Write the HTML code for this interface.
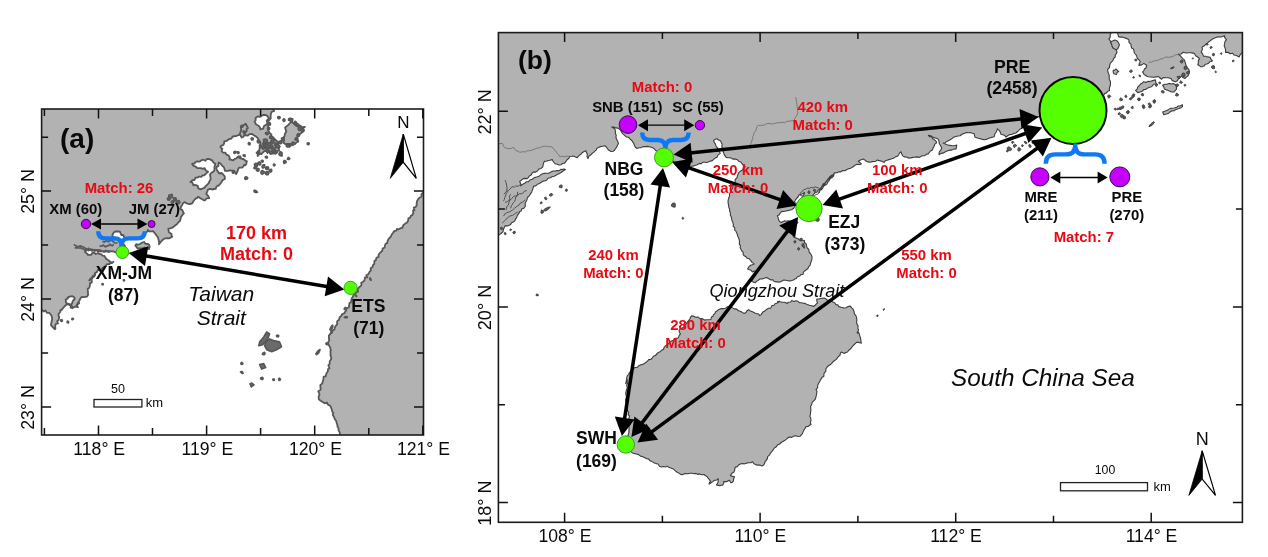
<!DOCTYPE html>
<html lang="en"><head><meta charset="utf-8"><title>Figure</title>
<style>
html,body{margin:0;padding:0;background:#fff;}
body{width:1268px;height:557px;overflow:hidden;}
svg{display:block;position:absolute;left:0;top:0;}
text{font-family:"Liberation Sans",Arial,Helvetica,sans-serif;fill:#0a0a0a;}
.t{font-weight:400;}
.b{font-weight:700;}
.r{font-weight:700;fill:#E60A14;}
.i{font-style:italic;}
.land{fill:#B2B2B2;stroke:#505050;stroke-width:1;stroke-linejoin:round;}
.la .land,.la .sea{stroke-width:1.8;stroke:#575757;}
.la .isl{stroke-width:1.6;stroke:#575757;fill:#6a6a6a;}
.sea{fill:#fff;stroke:#555;stroke-width:1;stroke-linejoin:round;}
.isl{fill:#777;stroke:#555;stroke-width:1;stroke-linejoin:round;}
.lb .isl{fill:#5a5a5a;stroke:#3c3c3c;stroke-width:0.9;}
.lb .land,.lb .sea{stroke:#3c3c3c;stroke-width:1.1;}
.bline{fill:none;stroke:#6a6a6a;stroke-width:0.8;}
.cline{fill:none;stroke:#505050;stroke-width:1;}
.la .cline{stroke:#5a5a5a;stroke-width:1.7;}
.frame{fill:none;stroke:#1c1c1c;stroke-width:1.6;}
.tick{fill:none;stroke:#111;stroke-width:1.5;}
.gc{fill:#55FF00;stroke:#2f9a1f;stroke-width:0.9;}
.pc{fill:#C500FF;stroke:#3a0a4a;stroke-width:1;}
</style></head><body>
<svg width="1268" height="557" viewBox="0 0 1268 557">
<rect width="1268" height="557" fill="#fff"/>
<defs>
<clipPath id="ca"><rect x="41.6" y="109.0" width="381.9" height="326.0"/></clipPath>
<clipPath id="cb"><rect x="498.4" y="32.6" width="744.0000000000001" height="489.69999999999993"/></clipPath>
</defs>

<g id="panelA">
<g clip-path="url(#ca)" class="la">
<path class="land" d="M41.0 100.0 L43.0 100.0 L45.0 100.0 L47.0 100.0 L49.0 100.1 L51.0 100.1 L53.0 100.1 L55.1 100.1 L57.1 100.1 L59.1 100.1 L61.1 100.2 L63.1 100.2 L65.1 100.2 L67.1 100.2 L69.1 100.2 L71.1 100.2 L73.1 100.3 L75.1 100.3 L77.1 100.3 L79.2 100.3 L81.2 100.3 L83.2 100.3 L85.2 100.3 L87.2 100.4 L89.2 100.4 L91.2 100.4 L93.2 100.4 L95.2 100.4 L97.2 100.4 L99.2 100.5 L101.2 100.5 L103.3 100.5 L105.3 100.5 L107.3 100.5 L109.3 100.5 L111.3 100.6 L113.3 100.6 L115.3 100.6 L117.3 100.6 L119.3 100.6 L121.3 100.6 L123.3 100.7 L125.3 100.7 L127.4 100.7 L129.4 100.7 L131.4 100.7 L133.4 100.7 L135.4 100.7 L137.4 100.8 L139.4 100.8 L141.4 100.8 L143.4 100.8 L145.4 100.8 L147.4 100.8 L149.4 100.9 L151.5 100.9 L153.5 100.9 L155.5 100.9 L157.5 100.9 L159.5 100.9 L161.5 101.0 L163.5 101.0 L165.5 101.0 L167.5 101.0 L169.5 101.0 L171.5 101.0 L173.5 101.0 L175.5 101.1 L177.6 101.1 L179.6 101.1 L181.6 101.1 L183.6 101.1 L185.6 101.1 L187.6 101.2 L189.6 101.2 L191.6 101.2 L193.6 101.2 L195.6 101.2 L197.6 101.2 L199.6 101.3 L201.7 101.3 L203.7 101.3 L205.7 101.3 L207.7 101.3 L209.7 101.3 L211.7 101.3 L213.7 101.4 L215.7 101.4 L217.7 101.4 L219.7 101.4 L221.7 101.4 L223.7 101.4 L225.8 101.5 L227.8 101.5 L229.8 101.5 L231.8 101.5 L233.8 101.5 L235.8 101.5 L237.8 101.6 L239.8 101.6 L241.8 101.6 L243.8 101.6 L245.8 101.6 L247.8 101.6 L249.9 101.7 L251.9 101.7 L253.9 101.7 L255.9 101.7 L257.9 101.7 L259.9 101.7 L261.9 101.7 L263.9 101.8 L265.9 101.8 L267.9 101.8 L269.9 101.8 L271.9 101.8 L274.1 101.5 L274.6 103.6 L273.7 105.6 L274.4 108.0 L273.0 108.9 L274.2 111.0 L271.7 111.8 L270.8 114.3 L270.6 116.5 L270.8 118.3 L269.1 120.2 L268.0 122.2 L269.3 124.0 L268.0 126.3 L268.3 128.4 L268.3 130.7 L268.7 131.6 L269.7 133.0 L271.5 134.6 L270.5 136.8 L273.2 137.2 L274.8 139.3 L276.4 140.7 L278.1 141.7 L278.1 142.4 L278.1 145.0 L279.8 146.4 L278.7 148.8 L279.1 150.3 L276.5 151.6 L275.8 152.7 L273.8 153.6 L271.2 153.6 L269.6 152.1 L267.6 151.6 L264.6 150.8 L262.8 152.5 L261.4 154.1 L259.8 153.7 L257.7 156.0 L257.6 153.6 L256.5 152.9 L258.2 151.7 L259.3 150.0 L259.8 147.2 L259.6 145.6 L260.6 142.7 L259.5 141.0 L258.6 140.2 L258.0 138.4 L255.8 136.4 L253.7 135.3 L252.0 133.9 L249.5 134.1 L247.6 135.7 L244.4 135.0 L242.1 136.6 L240.4 134.7 L238.3 135.2 L236.3 136.0 L235.2 136.1 L232.7 136.5 L231.4 138.5 L230.0 138.8 L228.7 139.3 L226.9 140.8 L224.3 141.4 L224.2 143.2 L223.4 144.9 L220.7 146.1 L220.5 147.4 L222.3 149.0 L221.6 150.9 L222.8 152.6 L225.4 152.7 L226.4 154.7 L228.8 155.7 L229.8 158.1 L229.3 159.5 L230.8 159.7 L233.2 160.4 L234.5 159.1 L236.0 158.5 L238.3 156.5 L240.0 158.0 L242.1 159.0 L243.4 159.0 L245.7 161.0 L246.9 161.1 L246.3 163.9 L245.4 165.4 L244.3 164.8 L242.7 167.3 L241.8 167.6 L239.0 167.7 L238.2 169.0 L237.4 171.7 L236.2 174.1 L234.5 171.5 L234.1 170.7 L231.3 170.5 L229.3 170.3 L227.9 170.8 L224.9 170.8 L224.3 168.1 L223.6 166.9 L222.2 165.8 L220.3 163.3 L218.5 162.5 L218.4 166.1 L216.7 166.9 L216.1 167.9 L216.8 169.7 L217.4 170.9 L219.3 173.5 L221.5 173.0 L223.2 174.5 L224.7 176.3 L224.9 178.7 L222.3 180.6 L221.2 182.5 L220.4 183.7 L218.8 185.4 L216.5 186.5 L215.7 188.9 L213.6 189.0 L212.9 189.7 L210.2 188.9 L207.9 189.7 L207.2 191.6 L206.2 193.9 L208.0 195.6 L209.2 198.2 L206.6 198.3 L205.1 200.3 L204.1 200.4 L202.3 199.2 L200.7 198.5 L198.2 196.6 L196.9 198.3 L195.8 198.3 L193.8 200.5 L193.1 202.0 L192.0 203.3 L189.9 204.1 L186.5 203.3 L184.7 202.1 L183.0 203.3 L182.3 204.7 L181.5 206.0 L180.0 208.9 L182.2 209.9 L182.7 211.2 L183.9 213.4 L182.4 214.9 L180.9 217.3 L180.4 219.6 L179.9 221.0 L178.2 222.4 L176.9 224.3 L176.1 224.8 L174.5 226.0 L172.3 227.7 L170.3 228.4 L168.3 228.6 L168.9 232.3 L171.6 233.9 L171.5 235.7 L172.3 236.8 L169.2 238.4 L167.3 238.2 L164.3 238.6 L162.8 239.8 L160.9 241.6 L159.0 244.2 L159.1 241.8 L158.3 239.0 L158.1 237.4 L156.5 235.5 L155.1 233.5 L153.1 231.1 L152.1 231.3 L149.2 231.3 L147.8 229.8 L147.8 231.3 L145.9 232.5 L145.0 234.0 L144.0 234.6 L143.2 237.4 L141.5 237.0 L140.6 239.0 L138.0 238.7 L136.3 238.0 L134.2 238.3 L131.4 239.5 L129.3 238.5 L127.0 238.2 L124.4 237.7 L123.2 234.8 L121.3 235.0 L119.9 231.7 L118.1 231.5 L115.6 231.4 L113.7 232.5 L112.5 234.9 L112.3 235.7 L113.9 237.7 L115.2 237.6 L117.6 238.1 L118.8 238.5 L121.0 240.6 L122.7 241.2 L122.9 243.0 L124.7 245.5 L125.2 248.0 L122.2 248.5 L121.6 250.1 L119.0 251.7 L118.0 252.1 L115.7 252.3 L113.5 251.4 L112.4 251.3 L110.7 251.2 L108.4 252.0 L105.8 250.4 L104.3 251.8 L102.3 251.3 L100.3 251.1 L98.0 251.5 L96.1 250.0 L94.1 249.8 L91.8 250.8 L90.9 249.1 L88.4 250.5 L86.7 249.2 L84.9 251.6 L85.9 252.7 L87.9 254.5 L87.8 254.9 L91.2 254.8 L92.5 252.8 L94.5 252.9 L95.6 254.0 L98.2 253.2 L99.8 254.1 L101.1 254.1 L102.5 255.6 L104.3 255.8 L105.4 257.5 L106.1 258.8 L108.3 260.2 L110.3 261.7 L112.2 262.7 L113.4 261.8 L111.9 263.2 L110.5 262.9 L109.4 264.0 L106.5 264.4 L106.3 265.4 L104.7 266.5 L102.4 268.1 L101.7 269.4 L99.7 270.4 L97.9 269.8 L97.1 271.9 L94.8 273.2 L95.3 274.5 L93.9 275.9 L92.4 278.0 L91.1 278.6 L89.3 280.4 L90.8 278.4 L92.1 277.3 L94.1 276.7 L94.9 275.5 L93.0 275.6 L92.2 278.3 L91.7 279.1 L91.8 282.4 L89.9 283.4 L89.9 285.8 L89.0 288.2 L87.8 288.5 L87.8 290.2 L88.0 293.2 L88.1 294.9 L87.0 296.6 L84.6 297.1 L81.6 297.0 L80.1 298.9 L79.7 300.2 L78.8 301.3 L78.9 303.2 L76.8 304.8 L77.9 307.1 L75.3 306.5 L72.6 308.0 L71.5 306.0 L70.1 305.3 L67.6 304.2 L66.2 304.9 L64.6 306.3 L63.0 308.1 L61.6 310.1 L60.4 310.2 L60.3 312.0 L58.7 313.7 L58.4 315.2 L59.2 317.1 L58.5 320.3 L57.1 321.2 L57.9 323.3 L55.7 324.0 L55.2 326.0 L55.4 328.7 L54.7 329.2 L53.0 327.4 L51.0 325.2 L51.2 323.3 L51.8 320.8 L52.1 319.6 L52.0 317.3 L51.4 315.3 L50.2 314.0 L49.3 312.9 L46.9 312.9 L45.5 310.4 L43.9 311.4 L41.7 309.8 L40.1 311.3 L37.8 310.3 L37.9 308.3 L37.9 306.3 L37.9 304.3 L38.0 302.3 L38.0 300.3 L38.0 298.3 L38.1 296.3 L38.1 294.3 L38.1 292.3 L38.1 290.3 L38.2 288.3 L38.2 286.3 L38.2 284.2 L38.3 282.2 L38.3 280.2 L38.3 278.2 L38.4 276.2 L38.4 274.2 L38.4 272.2 L38.4 270.2 L38.5 268.2 L38.5 266.2 L38.5 264.2 L38.6 262.2 L38.6 260.2 L38.6 258.2 L38.7 256.2 L38.7 254.2 L38.7 252.2 L38.7 250.2 L38.8 248.2 L38.8 246.2 L38.8 244.2 L38.9 242.2 L38.9 240.2 L38.9 238.2 L39.0 236.2 L39.0 234.2 L39.0 232.2 L39.0 230.2 L39.1 228.2 L39.1 226.2 L39.1 224.2 L39.2 222.2 L39.2 220.2 L39.2 218.2 L39.3 216.2 L39.3 214.2 L39.3 212.2 L39.3 210.1 L39.4 208.1 L39.4 206.1 L39.4 204.1 L39.5 202.1 L39.5 200.1 L39.5 198.1 L39.6 196.1 L39.6 194.1 L39.6 192.1 L39.6 190.1 L39.7 188.1 L39.7 186.1 L39.7 184.1 L39.8 182.1 L39.8 180.1 L39.8 178.1 L39.9 176.1 L39.9 174.1 L39.9 172.1 L39.9 170.1 L40.0 168.1 L40.0 166.1 L40.0 164.1 L40.1 162.1 L40.1 160.1 L40.1 158.1 L40.2 156.1 L40.2 154.1 L40.2 152.1 L40.2 150.1 L40.3 148.1 L40.3 146.1 L40.3 144.1 L40.4 142.1 L40.4 140.1 L40.4 138.1 L40.5 136.0 L40.5 134.0 L40.5 132.0 L40.5 130.0 L40.6 128.0 L40.6 126.0 L40.6 124.0 L40.7 122.0 L40.7 120.0 L40.7 118.0 L40.8 116.0 L40.8 114.0 L40.8 112.0 L40.8 110.0 L40.9 108.0 L40.9 106.0 L40.9 104.0 L41.0 102.0Z"/>
<path class="sea" d="M254.6 121.4 L255.6 120.6 L255.6 118.0 L258.0 116.3 L259.7 116.8 L261.5 116.1 L262.8 114.9 L265.7 115.0 L267.3 115.9 L268.8 118.0 L268.0 119.4 L266.7 120.6 L267.6 124.1 L266.1 124.7 L263.8 126.3 L263.2 128.7 L260.4 129.4 L259.8 127.2 L258.4 125.7 L255.8 124.3 L255.5 123.1Z"/>
<path class="sea" d="M192.1 163.7 L194.6 163.6 L195.3 162.2 L197.2 161.3 L199.4 161.7 L201.2 160.4 L203.3 159.7 L205.5 160.8 L206.8 158.9 L209.4 159.0 L211.3 160.3 L212.2 160.1 L213.2 162.3 L215.5 164.0 L214.7 165.9 L214.4 167.6 L214.5 169.9 L213.8 171.2 L211.3 172.9 L210.0 174.5 L210.4 176.9 L210.7 179.1 L209.8 180.6 L208.7 183.1 L207.3 184.8 L205.6 186.1 L204.3 187.9 L203.0 188.3 L200.6 189.4 L198.3 188.4 L197.7 185.8 L195.1 184.8 L193.4 185.3 L192.2 182.1 L190.3 182.1 L192.4 180.1 L194.5 180.0 L195.5 177.7 L197.3 177.6 L199.3 176.5 L201.2 177.0 L202.2 175.5 L204.2 175.4 L205.5 174.1 L206.7 172.9 L208.1 171.8 L207.1 171.2 L205.3 169.9 L204.7 168.1 L202.6 168.9 L201.0 168.1 L197.4 168.1 L196.7 167.5 L194.9 166.2 L193.3 165.9Z"/>
<path class="sea" d="M65.8 299.3 L68.0 298.5 L67.8 297.3 L69.6 296.6 L72.1 296.1 L74.3 297.3 L74.7 299.0 L72.9 300.8 L71.9 303.8 L70.8 304.7 L68.5 303.8 L66.3 303.2 L65.9 302.0Z"/>
<path class="land" d="M242.7 125.9 L244.5 124.8 L245.4 123.6 L246.7 125.6 L247.1 126.6 L248.0 127.9 L246.5 129.0 L246.8 130.9 L244.7 132.9 L244.6 133.8 L244.3 135.1 L243.2 137.0 L241.6 137.5 L240.7 135.7 L239.8 133.9 L240.2 132.7 L241.3 130.1 L241.0 128.2 L240.7 126.6Z"/>
<path class="land" d="M285.1 127.5 L286.7 126.3 L288.4 124.9 L289.7 123.3 L291.7 121.5 L293.3 123.1 L295.2 125.0 L298.2 126.4 L300.4 125.6 L301.9 127.1 L304.9 127.0 L303.0 128.1 L303.2 130.1 L301.9 132.5 L300.7 133.4 L298.4 134.8 L298.1 135.4 L296.6 138.2 L297.0 139.5 L298.4 141.4 L296.4 142.5 L294.9 144.2 L293.3 143.5 L291.6 144.5 L289.6 144.0 L287.5 144.0 L285.5 144.2 L283.8 143.0 L283.4 140.4 L283.0 137.9 L284.5 136.3 L284.9 133.9 L286.3 131.5 L285.6 129.4Z"/>
<path class="land" d="M136.2 244.2 L137.9 244.8 L140.4 243.7 L141.5 242.9 L144.1 242.0 L145.6 243.9 L147.8 243.8 L149.1 244.7 L149.7 246.9 L148.9 249.2 L147.8 247.5 L145.5 248.1 L144.2 247.7 L141.6 248.7 L140.6 248.2 L137.6 248.6 L136.4 246.8 L135.3 245.6Z"/>
<path class="cline" d="M73.9 244.4 L75.0 245.2 L77.0 246.5 L78.8 246.4 L80.3 245.9 L82.1 246.6 L84.9 248.0 L87.3 249.5 L88.6 248.4 L90.5 250.1 L92.7 249.5 L94.5 251.4 L95.9 250.1 L98.8 249.8 L100.5 250.3 L102.3 251.1 L104.6 251.4 L105.9 251.7 L108.3 250.9 L110.3 251.9"/>
<path class="cline" d="M74.7 247.9 L76.5 247.8 L79.2 248.0 L80.4 247.9 L82.6 248.8 L84.7 249.7 L86.9 251.0"/>
<path class="cline" d="M99.6 246.1 L101.7 246.1 L103.3 245.1 L105.3 246.8 L106.3 246.4 L109.1 245.3 L109.8 244.4 L112.2 245.7 L113.9 244.3"/>
<path class="cline" d="M102.3 241.3 L104.2 242.0 L106.5 240.7 L108.4 241.7 L109.9 240.6 L112.2 240.2 L113.3 241.8 L115.1 242.9 L117.5 243.0"/>
<path class="land" d="M440.5 192.0 L437.3 194.0 L436.4 193.7 L434.0 192.6 L432.1 192.1 L429.9 191.9 L427.1 192.7 L425.0 192.5 L423.5 192.2 L421.4 194.4 L421.5 196.5 L418.8 198.2 L417.7 199.9 L417.0 201.2 L416.7 203.1 L416.6 205.5 L415.8 206.9 L413.8 207.6 L414.5 210.2 L413.1 210.5 L413.3 213.1 L412.3 215.2 L410.8 215.8 L410.1 217.7 L408.4 218.3 L408.1 220.8 L407.1 222.5 L405.3 223.6 L403.5 225.0 L402.1 228.0 L400.8 228.1 L398.7 229.3 L396.9 229.0 L396.4 230.6 L394.1 231.2 L392.8 233.2 L391.5 234.8 L391.2 236.1 L389.3 238.2 L388.6 239.0 L387.8 240.4 L387.2 243.1 L385.6 243.8 L384.9 245.5 L384.7 247.5 L382.6 248.6 L382.3 250.8 L381.1 251.8 L379.3 253.6 L378.5 255.1 L378.7 257.0 L376.5 257.6 L375.9 260.1 L374.5 260.8 L374.2 264.0 L373.2 264.7 L372.6 266.9 L370.6 268.2 L370.9 270.3 L369.5 271.8 L368.4 274.1 L366.3 275.2 L367.3 277.3 L365.0 277.5 L364.5 280.4 L362.8 282.0 L361.2 282.9 L361.5 284.7 L360.8 286.1 L359.1 287.3 L357.7 289.1 L358.1 291.7 L356.3 292.0 L355.3 293.8 L353.5 295.0 L352.4 297.8 L351.6 298.3 L351.5 300.1 L350.7 302.7 L349.5 302.8 L349.2 305.6 L348.7 307.5 L346.7 308.0 L346.2 310.6 L345.3 311.3 L344.5 313.1 L342.1 314.3 L340.9 316.4 L339.7 317.0 L339.0 320.0 L337.5 320.7 L337.0 322.2 L337.3 324.1 L336.0 325.6 L334.5 327.9 L334.6 329.4 L332.4 330.3 L332.2 332.4 L330.5 333.4 L331.5 331.4 L330.2 329.3 L331.4 331.7 L329.9 334.5 L328.8 335.6 L328.9 338.2 L329.3 340.5 L328.1 342.2 L328.4 344.3 L329.1 345.6 L330.1 347.4 L330.9 350.2 L330.4 351.0 L330.6 353.1 L330.5 355.4 L331.3 357.5 L331.0 359.5 L329.7 361.2 L329.6 364.0 L328.4 365.1 L329.5 368.5 L328.0 369.1 L327.8 371.5 L326.5 373.2 L325.6 376.4 L323.7 376.7 L323.3 379.7 L322.9 380.8 L322.3 383.3 L320.3 385.1 L320.5 387.4 L320.6 389.8 L318.3 391.3 L319.0 393.0 L319.5 394.8 L318.6 396.6 L318.8 399.2 L321.1 401.1 L322.2 401.8 L324.7 403.3 L326.9 402.5 L328.3 405.1 L329.7 405.3 L330.6 406.6 L331.8 409.4 L332.2 411.4 L333.4 413.2 L332.7 414.7 L334.1 417.1 L334.7 419.0 L336.1 420.7 L336.7 423.0 L337.5 425.3 L337.4 426.5 L338.5 428.1 L338.5 430.1 L339.6 432.2 L340.0 433.9 L340.7 436.7 L341.9 437.9 L341.7 440.6 L343.7 440.7 L345.7 440.7 L347.7 440.8 L349.7 440.9 L351.7 441.0 L353.7 441.1 L355.7 441.2 L357.7 441.3 L359.7 441.4 L361.7 441.5 L363.8 441.6 L365.8 441.6 L367.8 441.7 L369.8 441.8 L371.8 441.9 L373.8 442.0 L375.8 442.1 L377.8 442.2 L379.8 442.3 L381.8 442.4 L383.8 442.5 L385.8 442.6 L387.8 442.6 L389.8 442.7 L391.8 442.8 L393.8 442.9 L395.9 443.0 L397.9 443.1 L399.9 443.2 L401.9 443.3 L403.9 443.4 L405.9 443.5 L407.9 443.6 L409.9 443.6 L411.9 443.7 L413.9 443.8 L415.9 443.9 L417.9 444.0 L419.9 444.1 L421.9 444.2 L423.9 444.3 L426.0 444.4 L428.0 444.5 L430.0 444.5 L432.0 444.6 L434.0 444.7 L436.0 444.8 L438.0 444.9 L440.0 445.0 L440.0 443.0 L440.0 441.0 L440.0 439.0 L440.0 437.0 L440.0 435.0 L440.0 433.0 L440.0 431.0 L440.0 429.0 L440.0 427.0 L440.0 425.0 L440.0 423.0 L440.0 421.0 L440.0 419.0 L440.0 417.0 L440.0 415.0 L440.0 413.0 L440.0 411.0 L440.0 409.0 L440.0 407.0 L440.0 405.0 L440.0 403.0 L440.0 401.0 L440.0 399.0 L440.0 397.0 L440.0 395.0 L440.0 393.0 L440.0 391.0 L440.0 389.0 L440.0 387.0 L440.0 385.0 L440.0 383.0 L440.0 381.0 L440.0 379.0 L440.0 377.0 L440.0 375.0 L440.0 373.0 L440.0 371.0 L440.0 369.0 L440.0 367.0 L440.0 365.0 L440.0 363.0 L440.0 361.0 L440.0 359.0 L440.0 357.0 L440.0 355.0 L440.0 353.0 L440.0 351.0 L440.0 349.0 L440.0 347.0 L440.0 345.0 L440.0 343.0 L440.0 341.0 L440.0 339.0 L440.0 337.0 L440.0 335.0 L440.0 333.0 L440.0 331.0 L440.0 329.0 L440.0 327.0 L440.0 325.0 L440.0 323.0 L440.0 321.0 L440.0 319.0 L440.0 317.0 L440.0 315.0 L440.0 313.0 L440.0 311.0 L440.0 309.0 L440.0 307.0 L440.0 305.0 L440.0 303.0 L440.0 301.0 L440.0 299.0 L440.0 297.0 L440.0 295.0 L440.0 293.0 L440.0 291.0 L440.0 289.0 L440.0 287.0 L440.0 285.0 L440.0 283.0 L440.0 281.0 L440.0 279.0 L440.0 277.0 L440.0 275.0 L440.0 273.0 L440.0 271.0 L440.0 269.0 L440.0 267.0 L440.0 265.0 L440.0 263.0 L440.0 261.0 L440.0 259.0 L440.0 257.0 L440.0 255.0 L440.0 253.0 L440.0 251.0 L440.0 249.0 L440.0 247.0 L440.0 245.0 L440.0 243.0 L440.0 241.0 L440.0 239.0 L440.0 237.0 L440.0 235.0 L440.0 233.0 L440.0 231.0 L440.0 229.0 L440.0 227.0 L440.0 225.0 L440.0 223.0 L440.0 221.0 L440.0 219.0 L440.0 217.0 L440.0 215.0 L440.0 213.0 L440.0 211.0 L440.0 209.0 L440.0 207.0 L440.0 205.0 L440.0 203.0 L440.0 201.0 L440.0 199.0 L440.0 197.0 L440.0 195.0Z"/>
<path class="isl" d="M265.7 341.8 L269.6 338.9 L274.6 340.9 L279.5 341.8 L281.5 346.8 L276.5 349.7 L271.6 351.7 L266.7 349.7 L264.7 345.8Z"/>
<path class="isl" d="M259.7 341.8 L263.7 336.9 L266.7 332.0 L269.6 333.9 L267.6 338.9 L262.7 344.8 L258.8 345.8Z"/>
<path class="isl" d="M259.7 364.6 L263.7 363.6 L265.7 367.5 L261.7 369.1Z"/>
<path class="isl" d="M282.1 154.0 L282.1 155.9 L280.2 155.7 L279.0 154.7 L279.2 153.3 L280.0 151.6 L281.9 152.4Z"/>
<path class="isl" d="M286.3 161.9 L285.4 162.9 L284.1 163.6 L283.6 162.3 L283.6 161.4 L284.2 160.4 L285.4 160.8Z"/>
<path class="isl" d="M289.8 158.7 L289.0 159.4 L288.3 159.5 L287.4 159.2 L287.7 158.3 L288.2 157.4 L289.1 157.9Z"/>
<path class="isl" d="M309.2 143.7 L308.9 144.6 L308.0 144.6 L307.2 144.2 L307.3 143.3 L308.0 142.9 L308.9 142.9Z"/>
<path class="isl" d="M247.4 178.0 L246.6 179.0 L245.5 179.5 L244.9 178.4 L245.0 177.6 L245.6 176.9 L246.6 177.0Z"/>
<path class="isl" d="M250.1 143.7 L249.9 144.8 L248.8 144.6 L248.3 144.0 L248.3 143.4 L248.7 142.6 L249.8 142.7Z"/>
<path class="isl" d="M267.4 157.1 L267.1 158.0 L266.2 157.9 L265.4 157.6 L265.4 156.7 L266.2 156.4 L267.0 156.3Z"/>
<path class="isl" d="M263.2 161.1 L263.0 161.9 L262.2 162.2 L261.3 161.6 L261.4 160.6 L262.2 160.2 L262.9 160.4Z"/>
<path class="isl" d="M275.2 165.0 L274.7 165.6 L274.1 165.9 L273.5 165.4 L273.4 164.6 L274.0 163.9 L274.7 164.5Z"/>
<path class="isl" d="M256.4 192.0 L256.0 192.5 L254.6 192.2 L254.2 191.4 L254.0 190.6 L255.3 190.7 L256.4 191.4Z"/>
<path class="isl" d="M266.5 142.9 L266.0 144.4 L264.5 144.2 L262.7 143.9 L263.4 142.3 L264.3 140.8 L266.0 141.4Z"/>
<path class="isl" d="M272.8 146.4 L272.2 147.7 L270.7 148.3 L269.6 147.1 L269.6 145.6 L270.7 144.7 L272.2 145.0Z"/>
<path class="isl" d="M269.8 151.1 L268.6 152.0 L267.5 153.1 L266.6 151.8 L266.8 150.6 L267.6 149.6 L268.9 150.0Z"/>
<path class="isl" d="M277.7 144.5 L277.1 145.7 L275.9 145.7 L274.6 145.2 L274.9 143.9 L275.8 142.7 L276.9 143.6Z"/>
<path class="isl" d="M275.6 151.1 L275.1 152.2 L273.9 152.7 L272.5 152.0 L272.8 150.4 L273.9 149.7 L275.4 149.7Z"/>
<path class="isl" d="M264.7 148.0 L264.2 148.8 L263.2 149.2 L262.2 148.6 L262.6 147.5 L263.1 146.3 L264.6 146.6Z"/>
<path class="isl" d="M280.2 117.6 L279.6 118.4 L278.7 118.8 L277.9 118.2 L277.7 117.0 L278.7 116.5 L279.7 116.7Z"/>
<path class="isl" d="M285.0 120.0 L284.8 120.9 L283.7 121.4 L283.0 120.5 L283.0 119.5 L283.8 118.8 L284.7 119.2Z"/>
<path class="isl" d="M291.4 119.5 L291.0 120.7 L289.8 120.7 L288.6 120.2 L288.6 118.9 L289.8 118.2 L291.0 118.4Z"/>
<path class="isl" d="M296.6 122.7 L295.8 123.5 L294.8 124.2 L294.1 123.2 L294.3 122.3 L294.8 121.3 L295.9 121.8Z"/>
<path class="isl" d="M302.1 128.7 L300.8 129.9 L299.4 130.6 L298.3 129.5 L298.2 127.9 L299.4 126.7 L300.7 127.7Z"/>
<path class="isl" d="M297.9 139.0 L297.5 139.9 L296.4 140.4 L295.1 139.7 L295.3 138.3 L296.4 137.7 L297.7 137.7Z"/>
<path class="isl" d="M272.3 137.4 L272.3 138.8 L270.8 138.6 L269.5 138.1 L269.7 136.7 L270.8 135.9 L272.0 136.3Z"/>
<path class="isl" d="M269.7 128.7 L269.3 129.4 L268.4 130.1 L267.7 129.2 L267.5 128.1 L268.5 127.6 L269.5 127.8Z"/>
<path class="isl" d="M284.1 139.0 L284.1 140.5 L282.7 140.3 L281.8 139.5 L281.4 138.2 L282.7 137.7 L284.2 137.4Z"/>
<path class="isl" d="M291.0 145.3 L290.6 146.0 L289.7 146.9 L289.2 145.7 L289.2 144.9 L289.7 143.8 L291.1 144.0Z"/>
<path class="isl" d="M259.7 152.4 L259.4 153.5 L258.3 153.3 L257.2 153.0 L257.5 151.9 L258.1 150.8 L259.3 151.3Z"/>
<path class="isl" d="M245.1 155.6 L245.0 156.5 L244.1 156.2 L243.4 156.0 L243.2 155.1 L244.1 154.9 L244.8 154.9Z"/>
<path class="isl" d="M239.1 152.4 L238.7 153.4 L237.7 153.4 L237.1 152.8 L236.9 151.9 L237.8 151.7 L238.5 151.7Z"/>
<path class="isl" d="M234.1 172.1 L233.9 173.1 L233.0 173.2 L232.3 172.6 L232.5 171.8 L232.9 171.0 L233.6 171.6Z"/>
<path class="isl" d="M247.8 178.1 L247.1 179.0 L246.2 179.0 L245.2 178.7 L245.2 177.6 L246.2 177.2 L247.0 177.3Z"/>
<path class="isl" d="M257.5 192.3 L256.5 192.4 L255.2 191.8 L254.5 191.0 L254.6 190.3 L255.9 190.8 L256.6 191.4Z"/>
<path class="isl" d="M68.6 322.1 L68.5 322.9 L67.7 322.8 L67.1 322.5 L67.1 321.8 L67.6 321.0 L68.4 321.4Z"/>
<path class="isl" d="M73.6 319.0 L73.0 319.5 L72.4 319.7 L71.8 319.4 L71.9 318.6 L72.4 318.3 L73.0 318.4Z"/>
<path class="isl" d="M62.4 320.6 L62.2 321.3 L61.3 321.4 L60.8 320.9 L60.6 320.1 L61.4 319.8 L62.1 319.9Z"/>
<path class="isl" d="M103.4 284.2 L103.1 284.8 L102.4 284.9 L102.1 284.5 L101.9 283.9 L102.4 283.5 L103.0 283.8Z"/>
<path class="isl" d="M124.5 280.3 L124.4 280.8 L123.8 280.9 L123.4 280.6 L123.4 280.0 L123.8 279.7 L124.3 279.8Z"/>
<path class="isl" d="M79.1 303.2 L78.6 303.8 L78.0 303.9 L77.5 303.5 L77.6 302.9 L78.0 302.6 L78.6 302.6Z"/>
<path class="isl" d="M72.6 307.1 L72.5 308.0 L71.6 308.0 L70.5 307.7 L70.6 306.5 L71.5 305.9 L72.3 306.5Z"/>
<path class="isl" d="M254.0 384.9 L252.6 385.9 L251.4 387.0 L250.7 385.4 L249.9 383.9 L251.4 383.1 L252.8 383.7Z"/>
<path class="isl" d="M263.2 378.4 L262.6 379.5 L261.5 379.4 L260.7 378.9 L260.6 377.9 L261.5 377.5 L262.5 377.4Z"/>
<path class="isl" d="M280.5 379.4 L280.1 380.1 L279.2 380.5 L278.7 379.8 L278.7 379.0 L279.2 378.1 L280.0 378.7Z"/>
<path class="isl" d="M274.4 379.8 L274.1 380.5 L273.4 380.4 L273.0 380.0 L272.7 379.4 L273.4 378.9 L274.1 379.1Z"/>
<path class="isl" d="M242.9 363.6 L242.6 364.3 L241.8 364.4 L240.9 364.1 L240.9 363.1 L241.7 362.4 L242.4 363.0Z"/>
<path class="isl" d="M243.1 373.2 L242.4 373.5 L241.4 372.8 L240.5 371.9 L241.3 371.6 L242.1 371.6 L242.8 372.5Z"/>
<path class="isl" d="M320.1 349.5 L319.5 351.3 L318.4 353.4 L316.5 354.7 L315.9 354.0 L317.1 352.0 L318.4 350.4Z"/>
<path class="isl" d="M328.0 343.8 L327.5 344.7 L326.7 344.6 L326.1 344.2 L325.9 343.4 L326.6 342.8 L327.3 343.3Z"/>
<path class="isl" d="M265.0 353.7 L264.5 354.7 L263.5 354.7 L262.4 354.3 L262.8 353.2 L263.5 352.7 L264.7 352.4Z"/>
<path class="isl" d="M278.8 335.9 L278.3 336.9 L277.3 336.8 L276.6 336.3 L276.5 335.5 L277.3 335.1 L278.1 335.2Z"/>
<path class="isl" d="M332.8 325.1 L332.9 326.3 L332.1 328.4 L331.0 329.3 L330.2 329.5 L330.6 327.6 L331.8 325.6Z"/>
<path class="isl" d="M345.6 307.7 L345.7 308.1 L345.3 308.9 L344.7 309.3 L344.2 309.4 L344.4 308.4 L345.2 307.4Z"/>
<path class="isl" d="M347.5 317.1 L346.9 317.7 L345.5 317.7 L344.3 317.4 L344.9 317.0 L345.5 316.5 L346.6 316.8Z"/>
<path class="isl" d="M370.7 280.2 L370.3 279.8 L369.9 279.2 L369.8 278.3 L370.1 277.8 L370.7 278.8 L371.2 280.0Z"/>
<path class="isl" d="M356.6 296.6 L356.2 296.5 L355.5 295.8 L355.6 295.3 L355.8 295.1 L356.3 295.5 L356.6 296.1Z"/>
<path class="isl" d="M257.5 165.0 L257.3 166.5 L255.8 166.1 L254.7 165.7 L254.4 164.2 L255.7 163.3 L257.4 163.5Z"/>
<path class="isl" d="M260.7 163.6 L260.5 164.8 L259.3 164.9 L258.4 164.2 L257.9 162.8 L259.2 161.9 L260.4 162.6Z"/>
<path class="isl" d="M264.7 166.3 L264.4 167.4 L263.1 168.1 L262.0 167.0 L262.4 165.8 L263.2 164.7 L264.7 164.8Z"/>
<path class="isl" d="M268.6 168.3 L268.0 169.2 L267.0 169.5 L265.7 169.1 L265.7 167.6 L266.9 166.7 L268.3 167.1Z"/>
<path class="isl" d="M271.8 170.7 L271.4 171.8 L270.2 172.1 L269.5 171.2 L269.1 170.1 L270.2 169.5 L271.5 169.4Z"/>
<path class="isl" d="M268.9 173.2 L268.1 174.6 L266.6 174.8 L265.5 173.9 L265.2 172.4 L266.6 171.6 L268.3 171.7Z"/>
<path class="isl" d="M264.6 172.3 L263.4 173.4 L262.1 174.3 L260.9 173.1 L261.1 171.6 L262.1 170.4 L263.5 171.2Z"/>
<path class="isl" d="M258.9 169.9 L258.7 171.0 L257.6 171.1 L256.4 170.6 L256.9 169.5 L257.5 168.7 L258.9 168.6Z"/>
<path class="isl" d="M256.6 167.6 L256.1 168.6 L255.0 168.7 L253.9 168.2 L254.4 167.1 L255.0 166.2 L256.0 166.7Z"/>
<path class="isl" d="M267.5 140.5 L267.1 142.4 L265.2 142.0 L263.9 141.3 L263.4 139.5 L265.2 138.9 L266.5 139.3Z"/>
<path class="isl" d="M274.1 141.0 L274.0 142.7 L272.1 143.4 L270.5 142.1 L271.4 140.4 L272.2 139.1 L274.0 139.4Z"/>
<path class="isl" d="M270.7 144.5 L270.3 145.8 L268.8 146.2 L267.6 145.3 L267.4 143.6 L268.8 142.7 L270.5 142.8Z"/>
<path class="isl" d="M266.1 145.3 L265.6 146.3 L264.5 146.6 L263.7 145.8 L263.0 144.4 L264.4 143.7 L265.9 143.9Z"/>
<path class="isl" d="M279.5 146.4 L278.7 148.0 L277.1 147.9 L275.5 147.3 L275.4 145.4 L277.1 145.1 L278.7 144.8Z"/>
<path class="isl" d="M275.1 149.2 L274.4 150.4 L273.0 151.2 L271.9 150.0 L271.5 148.3 L273.1 147.5 L274.5 148.0Z"/>
<path class="isl" d="M269.1 148.4 L268.0 149.4 L266.8 149.8 L265.8 149.1 L265.4 147.6 L266.7 146.7 L267.9 147.5Z"/>
<path class="isl" d="M272.9 152.4 L271.9 153.4 L270.7 154.1 L269.7 153.1 L269.8 151.8 L270.8 151.2 L272.1 151.2Z"/>
<path class="isl" d="M277.3 152.4 L276.5 153.3 L275.5 153.9 L274.7 153.0 L274.5 151.8 L275.5 150.7 L277.0 151.0Z"/>
<path class="isl" d="M268.4 133.4 L267.7 134.7 L266.4 134.5 L265.8 133.9 L265.5 132.9 L266.4 132.3 L267.3 132.6Z"/>
<path class="isl" d="M270.5 124.0 L270.3 124.9 L269.3 125.1 L268.0 124.7 L268.2 123.3 L269.3 122.8 L270.3 123.0Z"/>
<path class="isl" d="M282.1 142.1 L281.5 143.3 L280.2 143.8 L279.0 142.9 L279.1 141.4 L280.3 140.9 L281.6 140.8Z"/>
<path class="isl" d="M292.7 120.0 L292.3 120.9 L291.3 121.4 L290.4 120.6 L290.6 119.5 L291.4 119.0 L292.7 118.7Z"/>
<path class="isl" d="M298.9 124.7 L298.0 125.8 L296.8 126.2 L295.7 125.5 L295.5 123.9 L296.9 123.6 L297.9 123.9Z"/>
<path class="isl" d="M304.2 130.3 L303.5 131.7 L302.1 131.4 L301.3 130.8 L301.0 129.6 L302.1 129.0 L303.3 129.1Z"/>
<path class="isl" d="M299.7 135.0 L299.2 136.2 L298.0 136.2 L297.0 135.6 L297.2 134.5 L298.0 133.8 L299.3 133.8Z"/>
<path class="isl" d="M294.8 143.7 L293.9 144.5 L292.8 145.5 L291.7 144.5 L291.8 143.0 L292.8 142.0 L294.3 142.4Z"/>
<path class="isl" d="M289.2 145.8 L288.6 146.9 L287.4 147.0 L286.3 146.4 L286.4 145.1 L287.4 144.5 L288.3 144.9Z"/>
<path class="isl" d="M242.8 126.3 L242.5 127.2 L241.7 127.3 L240.9 126.8 L241.0 125.9 L241.6 125.2 L242.6 125.4Z"/>
<path class="isl" d="M245.4 131.9 L245.1 132.9 L244.0 133.1 L243.1 132.4 L243.1 131.3 L244.0 130.9 L244.7 131.2Z"/>
<path class="isl" d="M253.3 139.0 L252.8 139.8 L251.9 140.1 L251.3 139.4 L251.1 138.5 L251.9 137.8 L252.9 138.0Z"/>
<path class="isl" d="M259.6 141.7 L259.2 142.6 L258.2 143.0 L257.4 142.2 L257.3 141.1 L258.1 140.1 L259.3 140.6Z"/>
<path class="isl" d="M261.9 146.4 L261.5 147.2 L260.5 147.8 L259.6 147.0 L259.8 145.9 L260.5 145.0 L261.7 145.3Z"/>
<path class="isl" d="M240.9 157.1 L240.0 157.8 L239.3 158.0 L238.8 157.5 L238.6 156.7 L239.3 156.2 L240.3 156.1Z"/>
<path class="isl" d="M235.9 152.4 L235.3 153.0 L234.5 153.5 L233.8 152.9 L233.8 151.9 L234.6 151.5 L235.5 151.4Z"/>
<path class="isl" d="M172.5 195.9 L171.9 197.6 L170.2 197.8 L168.8 196.8 L168.9 195.1 L170.4 194.8 L171.9 194.3Z"/>
<path class="isl" d="M176.4 199.0 L175.8 200.4 L174.3 201.0 L173.7 199.5 L173.2 198.2 L174.5 197.7 L175.7 197.9Z"/>
<path class="isl" d="M179.9 202.1 L179.1 203.7 L177.5 203.5 L176.3 202.8 L176.4 201.4 L177.5 200.7 L179.1 200.6Z"/>
<path class="isl" d="M173.9 202.1 L173.3 202.9 L172.3 203.7 L171.4 202.7 L171.3 201.5 L172.4 200.9 L173.7 200.8Z"/>
<path class="isl" d="M170.2 199.0 L169.5 200.1 L168.3 200.0 L167.6 199.5 L167.4 198.4 L168.3 197.7 L169.2 198.2Z"/>
</g>
<rect class="frame" x="41.6" y="109.0" width="381.9" height="326.0"/>
<path class="tick" d="M44.4 109.0 v7.0 M44.4 435.0 v-7.0 M98.5 109.0 v9.5 M98.5 435.0 v-9.5 M152.5 109.0 v7.0 M152.5 435.0 v-7.0 M206.6 109.0 v9.5 M206.6 435.0 v-9.5 M260.6 109.0 v7.0 M260.6 435.0 v-7.0 M314.7 109.0 v9.5 M314.7 435.0 v-9.5 M368.8 109.0 v7.0 M368.8 435.0 v-7.0 M422.8 109.0 v9.5 M422.8 435.0 v-9.5 M41.6 137.3 h6.5 M423.5 137.3 h-6.5 M41.6 191.0 h9.5 M423.5 191.0 h-9.5 M41.6 245.0 h6.5 M423.5 245.0 h-6.5 M41.6 299.0 h9.5 M423.5 299.0 h-9.5 M41.6 353.0 h6.5 M423.5 353.0 h-6.5 M41.6 407.0 h9.5 M423.5 407.0 h-9.5"/>
<text class="t" x="99.2" y="454.6" font-size="17.6" text-anchor="middle">118° E</text>
<text class="t" x="207.3" y="454.6" font-size="17.6" text-anchor="middle">119° E</text>
<text class="t" x="315.4" y="454.6" font-size="17.6" text-anchor="middle">120° E</text>
<text class="t" x="423.5" y="454.6" font-size="17.6" text-anchor="middle">121° E</text>
<text class="t" transform="translate(33.5 191.5) rotate(-90)" font-size="17.8" text-anchor="middle">25° N</text>
<text class="t" transform="translate(33.5 299.5) rotate(-90)" font-size="17.8" text-anchor="middle">24° N</text>
<text class="t" transform="translate(33.5 407.5) rotate(-90)" font-size="17.8" text-anchor="middle">23° N</text>
<text class="b" x="60.0" y="147.6" font-size="28.0" text-anchor="start">(a)</text>
<text class="r" x="119.0" y="193.4" font-size="14.9" text-anchor="middle">Match: 26</text>
<text class="b" x="75.8" y="214.2" font-size="14.9" text-anchor="middle">XM (60)</text>
<text class="b" x="154.3" y="214.2" font-size="14.9" text-anchor="middle">JM (27)</text>
<line x1="100.0" y1="224.0" x2="138.5" y2="224.0" stroke="#000" stroke-width="1.3"/><polygon points="91.0,224.0 101.0,218.5 101.0,229.5" fill="#000"/><polygon points="147.5,224.0 137.5,218.5 137.5,229.5" fill="#000"/>
<path d="M98.2 231.2 Q98.2 238.4 105.4 238.4 L114.3 238.4 Q121.5 238.4 121.5 246.0 Q121.5 238.4 128.7 238.4 L137.6 238.4 Q144.8 238.4 144.8 231.2" fill="none" stroke="#0F78F5" stroke-width="4.4" stroke-linecap="butt" stroke-linejoin="round"/>
<circle class="pc" cx="86" cy="224" r="4.7"/>
<circle class="pc" cx="151.6" cy="224" r="3.5"/>
<line x1="144.9" y1="255.7" x2="328.1" y2="286.8" stroke="#000" stroke-width="3.5"/>
<polygon fill="#000" points="344.3,289.5 324.7,296.3 328.0,276.6"/>
<polygon fill="#000" points="128.7,253.0 145.0,265.9 148.3,246.2"/>
<circle class="gc" cx="122.4" cy="252.2" r="6.3"/>
<circle class="gc" cx="350.6" cy="287.9" r="6.6"/>
<text class="b" x="124.0" y="279.0" font-size="17.5" text-anchor="middle">XM-JM</text>
<text class="b" x="123.6" y="300.8" font-size="17.5" text-anchor="middle">(87)</text>
<text class="b" x="368.3" y="312.4" font-size="17.5" text-anchor="middle">ETS</text>
<text class="b" x="368.7" y="333.7" font-size="17.5" text-anchor="middle">(71)</text>
<text class="r" x="256.6" y="239.0" font-size="18.0" text-anchor="middle">170 km</text>
<text class="r" x="256.6" y="260.0" font-size="18.0" text-anchor="middle">Match: 0</text>
<text class="t i" x="221.3" y="300.7" font-size="21.1" text-anchor="middle">Taiwan</text>
<text class="t i" x="221.3" y="325.3" font-size="21.1" text-anchor="middle">Strait</text>
<rect x="94" y="399.5" width="47.9" height="7.5" fill="#fff" stroke="#222" stroke-width="1.3"/>
<text class="t" x="118.0" y="392.5" font-size="12.5" text-anchor="middle">50</text>
<text class="t" x="145.7" y="407.2" font-size="13.0" text-anchor="start">km</text>
<polygon points="403.3,134.1 390.3,178.3 403.3,162.2" fill="#000" stroke="#000" stroke-width="0.8" stroke-linejoin="miter"/><polygon points="403.3,134.1 416.3,178.3 403.3,162.2" fill="#fff" stroke="#000" stroke-width="1.2" stroke-linejoin="miter"/><text x="403.3" y="127.8" class="t" font-size="17.0" text-anchor="middle">N</text>
</g>
<g id="panelB">
<g clip-path="url(#cb)" class="lb">
<path class="land" d="M498.0 33.0 L498.0 35.0 L498.0 37.0 L498.0 39.0 L498.0 41.0 L498.0 43.0 L498.0 44.9 L498.0 46.9 L498.0 48.9 L498.0 50.9 L498.0 52.9 L498.0 54.9 L498.0 56.9 L498.0 58.9 L498.0 60.9 L498.0 62.9 L498.0 64.8 L498.0 66.8 L498.0 68.8 L498.0 70.8 L498.0 72.8 L498.0 74.8 L498.0 76.8 L498.0 78.8 L498.0 80.8 L498.0 82.8 L498.0 84.7 L498.0 86.7 L498.0 88.7 L498.0 90.7 L498.0 92.7 L498.0 94.7 L498.0 96.7 L498.0 98.7 L498.0 100.7 L498.0 102.7 L498.0 104.6 L498.0 106.6 L498.0 108.6 L498.0 110.6 L498.0 112.6 L498.0 114.6 L498.0 116.6 L498.0 118.6 L498.0 120.6 L498.0 122.6 L498.0 124.5 L498.0 126.5 L498.0 128.5 L498.0 130.5 L498.0 132.5 L498.0 134.5 L498.0 136.5 L498.0 138.5 L498.0 140.5 L498.0 142.5 L498.0 144.5 L498.0 146.4 L498.0 148.4 L498.0 150.4 L498.0 152.4 L498.0 154.4 L498.0 156.4 L498.0 158.4 L498.0 160.4 L498.0 162.4 L498.0 164.4 L498.0 166.3 L498.0 168.3 L498.0 170.3 L498.0 172.3 L498.0 174.3 L498.0 176.3 L498.0 178.3 L498.0 180.3 L498.0 182.3 L498.0 184.3 L498.0 186.2 L498.0 188.2 L498.0 190.2 L498.0 192.2 L498.0 194.2 L498.0 196.2 L498.0 198.2 L498.0 200.2 L498.0 202.2 L498.0 204.2 L498.0 206.1 L498.0 208.1 L498.0 210.1 L498.0 212.1 L498.0 214.1 L498.0 216.1 L498.0 218.1 L498.0 220.1 L498.0 222.1 L498.0 224.1 L498.0 226.0 L498.0 228.0 L498.0 230.0 L498.0 232.0 L498.0 234.0 L497.5 236.0 L499.8 234.4 L501.1 233.5 L503.0 231.7 L503.5 229.5 L504.1 227.8 L505.0 225.9 L507.4 225.9 L508.8 225.5 L510.5 224.6 L511.6 222.7 L513.8 221.8 L515.1 220.3 L515.6 219.1 L516.7 217.4 L517.4 215.3 L518.8 213.7 L519.6 211.5 L521.3 211.0 L521.6 209.0 L523.7 208.4 L525.2 206.5 L525.2 204.4 L525.2 203.0 L526.1 201.4 L527.0 199.7 L527.4 197.5 L529.3 195.8 L530.5 193.9 L531.7 192.0 L532.2 190.6 L532.9 188.7 L533.6 186.2 L535.7 185.9 L537.3 184.3 L539.5 183.5 L541.4 182.3 L543.0 181.1 L544.7 181.0 L546.9 179.9 L548.0 178.2 L550.5 177.7 L551.9 176.7 L554.1 176.3 L555.7 175.6 L557.2 174.4 L559.4 173.4 L561.4 172.3 L563.4 170.7 L565.5 169.5 L563.9 168.9 L562.2 169.6 L560.8 169.3 L559.2 170.7 L557.1 170.6 L555.8 170.9 L553.9 171.0 L552.0 171.4 L549.9 172.6 L548.7 173.2 L546.3 173.3 L544.4 173.4 L542.7 173.8 L541.2 174.3 L539.5 175.9 L537.5 176.8 L535.6 177.2 L533.7 177.9 L532.3 179.3 L529.8 180.0 L528.5 181.7 L526.4 181.7 L525.1 183.1 L522.7 184.3 L520.7 185.8 L520.6 183.4 L519.7 181.4 L521.4 180.2 L522.9 178.9 L524.9 178.4 L527.2 178.6 L528.3 177.6 L529.3 176.0 L531.4 174.7 L532.0 173.3 L533.8 171.9 L535.7 172.1 L537.4 171.0 L538.9 169.1 L541.1 168.4 L542.8 166.8 L543.1 164.8 L543.6 163.2 L544.4 161.3 L546.5 161.2 L548.2 160.5 L549.8 160.3 L552.2 159.6 L553.0 161.1 L554.0 162.5 L555.1 163.7 L557.4 164.3 L558.8 165.0 L561.0 164.8 L562.8 163.4 L564.5 163.3 L566.1 161.2 L567.0 159.8 L569.0 158.3 L569.5 156.5 L571.8 156.3 L573.3 156.0 L575.5 157.1 L577.2 157.7 L579.0 155.6 L580.8 154.3 L581.9 153.0 L583.6 151.7 L586.0 150.8 L586.3 152.3 L587.3 154.0 L587.0 156.6 L588.0 158.6 L589.0 156.0 L590.6 155.1 L591.7 153.8 L593.2 152.6 L594.4 151.6 L596.3 149.9 L596.9 148.3 L598.6 147.5 L600.3 146.6 L602.7 146.2 L605.1 145.8 L606.4 147.2 L607.4 148.5 L608.5 150.1 L611.0 151.5 L613.2 151.2 L614.7 150.0 L615.5 148.7 L616.8 146.9 L617.4 145.2 L618.4 143.7 L617.9 141.8 L616.8 139.6 L615.9 137.6 L616.2 135.3 L615.3 133.2 L615.5 131.5 L615.0 129.3 L613.4 127.9 L611.7 127.0 L614.0 127.1 L615.4 127.9 L618.1 128.1 L619.5 129.2 L620.8 130.5 L621.6 132.3 L623.2 134.1 L624.4 135.1 L625.7 136.4 L627.4 137.2 L628.6 137.3 L630.2 139.2 L631.9 140.5 L632.6 141.8 L633.8 143.4 L634.3 145.1 L635.3 147.2 L637.1 148.5 L638.9 147.8 L641.3 147.6 L643.5 146.6 L645.3 146.6 L647.8 146.4 L650.5 147.0 L652.6 147.8 L653.9 148.4 L655.8 150.7 L658.2 151.4 L659.2 153.0 L660.2 154.8 L662.6 156.2 L663.9 157.7 L666.0 158.9 L667.6 159.1 L669.8 160.1 L671.7 160.3 L673.6 161.5 L675.9 162.4 L677.6 162.8 L679.7 163.5 L681.7 164.2 L683.9 165.1 L685.4 165.1 L688.1 165.0 L689.6 166.2 L691.4 166.2 L693.6 165.9 L695.5 165.2 L697.2 164.8 L699.4 163.4 L701.5 163.7 L702.5 162.3 L704.8 162.3 L706.5 162.5 L708.3 162.0 L710.4 161.1 L712.3 160.6 L713.6 159.4 L714.9 158.3 L717.3 156.9 L717.9 155.1 L720.3 153.4 L719.7 152.2 L718.4 150.8 L718.1 148.9 L716.9 147.0 L715.9 145.9 L715.4 143.8 L714.5 142.8 L713.6 140.5 L714.7 139.6 L716.8 138.8 L718.6 140.0 L720.4 140.8 L721.6 143.0 L722.1 144.5 L721.8 146.8 L722.6 148.1 L723.0 150.4 L723.2 151.8 L724.0 153.9 L725.0 155.9 L726.2 157.4 L728.2 157.7 L730.5 157.7 L732.8 159.1 L735.0 158.9 L737.5 159.8 L739.0 161.5 L740.8 162.1 L741.9 163.5 L743.5 165.1 L745.5 166.8 L743.5 167.5 L742.6 170.0 L740.5 171.1 L738.9 172.4 L738.3 173.7 L737.3 176.0 L737.1 177.6 L735.1 179.7 L735.2 181.8 L734.3 183.8 L733.1 185.1 L732.7 187.7 L731.5 189.7 L731.0 191.5 L729.4 193.7 L729.6 195.7 L728.9 197.7 L728.3 199.4 L728.0 201.8 L728.3 203.8 L728.7 205.8 L728.8 207.5 L729.7 209.3 L729.6 211.1 L730.4 212.7 L730.4 215.3 L731.1 216.5 L731.6 218.5 L732.0 220.8 L732.7 222.1 L733.4 224.3 L733.1 226.1 L734.7 227.9 L734.8 230.4 L735.9 231.1 L736.6 232.8 L737.5 234.8 L737.7 236.2 L738.7 238.0 L739.3 240.2 L739.5 242.0 L739.3 243.9 L740.5 245.9 L740.1 247.6 L741.2 249.8 L741.8 250.9 L743.3 252.7 L743.1 254.3 L744.2 255.8 L746.3 257.0 L747.1 258.2 L749.3 258.8 L750.8 260.6 L752.0 262.4 L754.2 263.9 L752.4 264.8 L750.3 265.4 L748.6 267.1 L747.6 269.0 L749.4 269.7 L751.1 270.3 L752.4 272.0 L754.3 271.1 L756.7 271.2 L756.1 274.0 L754.8 276.1 L753.9 277.5 L752.9 279.2 L751.6 281.4 L753.3 282.1 L755.3 282.7 L756.8 281.1 L758.2 280.4 L759.8 279.0 L762.3 278.9 L764.3 278.2 L766.5 277.4 L768.8 278.8 L770.5 279.9 L772.9 279.7 L773.9 281.2 L775.8 281.9 L777.5 281.9 L779.4 282.3 L781.5 281.3 L783.8 280.1 L785.7 280.3 L788.1 280.7 L789.7 280.9 L791.6 280.6 L793.5 280.0 L794.8 279.0 L796.3 278.4 L797.4 276.7 L799.8 276.0 L800.8 274.6 L803.1 274.2 L803.3 272.4 L804.5 271.1 L805.9 270.0 L807.8 268.8 L808.6 266.8 L810.0 265.3 L810.4 263.8 L811.1 261.6 L812.0 258.9 L811.9 256.2 L810.8 254.1 L809.2 252.2 L808.8 249.5 L807.0 247.7 L806.5 245.6 L806.2 244.0 L804.6 242.7 L804.4 240.6 L802.1 240.7 L799.8 240.4 L798.3 239.0 L796.3 238.1 L794.3 237.5 L793.3 236.6 L793.2 234.3 L794.4 232.0 L794.7 229.6 L795.4 228.0 L796.0 225.6 L796.8 223.6 L797.9 222.1 L796.2 221.8 L793.9 220.9 L792.2 220.8 L790.0 221.3 L788.2 220.9 L786.6 221.2 L784.8 220.7 L783.1 221.4 L781.2 222.4 L779.5 221.6 L778.7 220.1 L778.1 217.7 L777.4 215.6 L779.0 215.0 L780.3 212.9 L781.9 211.4 L783.8 211.5 L785.8 211.0 L787.7 210.6 L789.4 210.2 L791.6 209.8 L793.7 208.3 L794.7 206.4 L796.6 204.8 L798.3 203.1 L798.9 201.2 L800.0 200.0 L800.2 198.4 L801.4 196.9 L803.0 196.7 L805.2 196.4 L806.4 196.2 L809.0 196.5 L810.8 196.3 L812.2 195.4 L813.5 194.4 L815.0 192.7 L816.8 192.2 L818.2 190.0 L819.9 189.1 L821.4 187.3 L822.4 185.9 L824.7 184.2 L825.5 182.5 L826.5 180.8 L827.9 179.4 L829.8 178.4 L831.0 176.7 L832.4 175.6 L834.1 174.1 L833.4 176.3 L832.1 177.5 L829.9 178.9 L829.3 180.5 L828.0 181.7 L826.9 184.1 L825.5 185.1 L823.4 186.3 L823.0 187.6 L821.5 189.7 L820.0 190.2 L819.3 192.5 L819.7 190.8 L821.5 188.9 L821.5 187.1 L822.6 185.4 L823.0 184.1 L825.0 183.0 L826.7 181.2 L827.3 179.9 L828.9 177.9 L829.7 176.9 L831.3 175.4 L833.2 174.7 L834.4 172.9 L837.0 172.7 L838.8 171.8 L840.9 171.9 L842.4 170.5 L845.0 170.8 L846.9 169.5 L849.0 168.6 L850.5 168.2 L851.9 167.5 L853.6 166.5 L855.4 164.9 L857.1 164.3 L859.4 164.6 L861.4 163.9 L859.5 162.2 L858.3 161.3 L861.0 159.7 L863.6 159.0 L864.6 159.9 L866.4 161.2 L868.0 161.9 L870.1 162.2 L872.4 161.6 L874.4 161.5 L875.9 161.2 L877.0 160.0 L879.3 160.6 L881.8 161.3 L884.1 162.4 L885.1 161.0 L886.8 160.2 L888.1 159.9 L891.0 159.0 L893.5 158.2 L895.2 157.1 L897.4 156.3 L898.6 155.0 L899.4 153.1 L901.0 151.8 L901.6 153.8 L902.5 155.6 L904.2 156.9 L906.3 157.0 L908.5 158.1 L910.6 157.9 L912.9 157.4 L914.6 157.3 L917.0 156.9 L919.6 157.4 L921.3 156.1 L922.9 155.8 L924.8 155.7 L926.5 154.1 L928.1 153.9 L929.7 152.0 L930.5 150.9 L932.4 150.0 L933.0 148.0 L934.0 146.6 L934.7 144.1 L936.2 143.2 L936.6 142.0 L935.5 140.6 L933.7 139.3 L932.7 138.7 L931.7 136.8 L929.8 136.8 L928.4 135.3 L930.8 135.8 L932.4 137.0 L934.0 137.6 L936.6 138.2 L938.4 139.4 L939.0 141.4 L939.4 143.8 L940.5 145.5 L941.7 148.0 L940.8 150.1 L939.2 152.0 L939.0 154.8 L941.0 153.4 L943.7 152.9 L945.4 151.7 L947.7 150.8 L950.4 150.1 L951.8 150.1 L953.5 149.1 L956.1 148.9 L956.4 147.0 L956.8 145.0 L954.5 145.7 L952.1 145.8 L950.2 145.4 L948.8 145.2 L946.3 144.5 L943.2 143.1 L945.1 142.8 L946.7 141.4 L948.3 140.7 L950.1 139.8 L951.9 138.7 L953.4 137.3 L955.9 136.5 L957.9 136.0 L960.1 135.8 L962.0 134.3 L963.9 133.4 L966.4 132.5 L968.8 132.7 L970.2 132.6 L972.4 133.3 L974.2 133.7 L974.5 135.7 L975.0 137.2 L976.6 137.7 L978.5 138.3 L980.1 138.6 L982.5 139.4 L984.5 139.8 L987.1 139.1 L989.6 138.0 L991.5 137.4 L994.1 136.8 L994.7 134.3 L996.1 132.2 L996.7 131.0 L997.5 128.8 L999.1 130.3 L1000.3 132.1 L1001.0 134.3 L1002.6 134.7 L1004.4 135.2 L1006.0 137.1 L1007.9 135.5 L1009.9 134.6 L1012.5 134.2 L1013.7 133.3 L1015.7 133.1 L1017.0 132.0 L1018.3 131.0 L1020.0 129.1 L1022.0 128.3 L1023.0 126.9 L1023.6 124.5 L1024.9 123.1 L1026.4 122.3 L1027.5 120.4 L1029.5 120.0 L1030.8 118.2 L1032.4 117.8 L1034.4 116.8 L1036.3 116.7 L1038.5 116.5 L1040.1 116.9 L1042.4 115.8 L1044.1 115.3 L1046.1 115.3 L1048.2 115.2 L1049.7 113.7 L1051.7 113.7 L1053.3 113.1 L1055.5 113.1 L1057.0 112.0 L1058.9 111.6 L1060.8 111.4 L1062.5 110.4 L1064.9 109.8 L1066.6 109.4 L1068.8 109.8 L1070.7 108.4 L1072.3 108.7 L1074.1 107.1 L1076.1 107.0 L1077.7 106.1 L1079.6 105.3 L1081.5 103.9 L1083.6 103.7 L1085.0 102.8 L1087.0 102.1 L1089.0 101.4 L1090.2 99.9 L1092.2 99.8 L1093.6 98.5 L1096.2 97.9 L1097.7 97.8 L1099.5 96.6 L1101.3 95.7 L1103.7 95.1 L1104.8 93.4 L1106.1 93.2 L1107.8 91.3 L1109.6 90.5 L1109.3 88.2 L1110.2 85.8 L1110.5 83.9 L1110.4 81.3 L1109.3 79.6 L1109.2 77.2 L1109.2 75.2 L1108.3 73.1 L1107.8 71.5 L1107.8 69.2 L1109.5 67.5 L1109.7 65.4 L1110.2 63.3 L1111.7 61.9 L1113.0 60.3 L1113.9 58.2 L1115.2 57.0 L1115.3 54.9 L1116.9 52.9 L1116.7 51.0 L1115.7 48.6 L1114.4 47.4 L1113.8 45.9 L1113.0 44.0 L1111.0 43.0 L1110.4 40.9 L1108.9 39.1 L1110.2 37.1 L1110.1 35.0 L1110.9 33.4 L1110.0 31.0 L1110.7 28.4 L1108.7 28.4 L1106.6 28.4 L1104.6 28.3 L1102.6 28.3 L1100.6 28.3 L1098.6 28.3 L1096.6 28.2 L1094.6 28.2 L1092.6 28.2 L1090.6 28.1 L1088.6 28.1 L1086.6 28.1 L1084.6 28.1 L1082.6 28.0 L1080.6 28.0 L1078.6 28.0 L1076.6 28.0 L1074.6 27.9 L1072.6 27.9 L1070.6 27.9 L1068.6 27.8 L1066.6 27.8 L1064.6 27.8 L1062.6 27.8 L1060.6 27.7 L1058.6 27.7 L1056.6 27.7 L1054.6 27.6 L1052.6 27.6 L1050.6 27.6 L1048.6 27.6 L1046.6 27.5 L1044.6 27.5 L1042.6 27.5 L1040.6 27.5 L1038.6 27.4 L1036.6 27.4 L1034.6 27.4 L1032.6 27.3 L1030.6 27.3 L1028.6 27.3 L1026.6 27.3 L1024.6 27.2 L1022.6 27.2 L1020.6 27.2 L1018.6 27.2 L1016.6 27.1 L1014.6 27.1 L1012.5 27.1 L1010.5 27.0 L1008.5 27.0 L1006.5 27.0 L1004.5 27.0 L1002.5 26.9 L1000.5 26.9 L998.5 26.9 L996.5 26.9 L994.5 26.8 L992.5 26.8 L990.5 26.8 L988.5 26.7 L986.5 26.7 L984.5 26.7 L982.5 26.7 L980.5 26.6 L978.5 26.6 L976.5 26.6 L974.5 26.5 L972.5 26.5 L970.5 26.5 L968.5 26.5 L966.5 26.4 L964.5 26.4 L962.5 26.4 L960.5 26.4 L958.5 26.3 L956.5 26.3 L954.5 26.3 L952.5 26.2 L950.5 26.2 L948.5 26.2 L946.5 26.2 L944.5 26.1 L942.5 26.1 L940.5 26.1 L938.5 26.1 L936.5 26.0 L934.5 26.0 L932.5 26.0 L930.5 25.9 L928.5 25.9 L926.5 25.9 L924.5 25.9 L922.5 25.8 L920.5 25.8 L918.4 25.8 L916.4 25.8 L914.4 25.7 L912.4 25.7 L910.4 25.7 L908.4 25.6 L906.4 25.6 L904.4 25.6 L902.4 25.6 L900.4 25.5 L898.4 25.5 L896.4 25.5 L894.4 25.4 L892.4 25.4 L890.4 25.4 L888.4 25.4 L886.4 25.3 L884.4 25.3 L882.4 25.3 L880.4 25.3 L878.4 25.2 L876.4 25.2 L874.4 25.2 L872.4 25.1 L870.4 25.1 L868.4 25.1 L866.4 25.1 L864.4 25.0 L862.4 25.0 L860.4 25.0 L858.4 25.0 L856.4 24.9 L854.4 24.9 L852.4 24.9 L850.4 24.8 L848.4 24.8 L846.4 24.8 L844.4 24.8 L842.4 24.7 L840.4 24.7 L838.4 24.7 L836.4 24.7 L834.4 24.6 L832.4 24.6 L830.4 24.6 L828.4 24.5 L826.4 24.5 L824.3 24.5 L822.3 24.5 L820.3 24.4 L818.3 24.4 L816.3 24.4 L814.3 24.3 L812.3 24.3 L810.3 24.3 L808.3 24.3 L806.3 24.2 L804.3 24.2 L802.3 24.2 L800.3 24.2 L798.3 24.1 L796.3 24.1 L794.3 24.1 L792.3 24.0 L790.3 24.0 L788.3 24.0 L786.3 24.0 L784.3 23.9 L782.3 23.9 L780.3 23.9 L778.3 23.9 L776.3 23.8 L774.3 23.8 L772.3 23.8 L770.3 23.7 L768.3 23.7 L766.3 23.7 L764.3 23.7 L762.3 23.6 L760.3 23.6 L758.3 23.6 L756.3 23.5 L754.3 23.5 L752.3 23.5 L750.3 23.5 L748.3 23.4 L746.3 23.4 L744.3 23.4 L742.3 23.4 L740.3 23.3 L738.3 23.3 L736.3 23.3 L734.3 23.2 L732.3 23.2 L730.2 23.2 L728.2 23.2 L726.2 23.1 L724.2 23.1 L722.2 23.1 L720.2 23.1 L718.2 23.0 L716.2 23.0 L714.2 23.0 L712.2 22.9 L710.2 22.9 L708.2 22.9 L706.2 22.9 L704.2 22.8 L702.2 22.8 L700.2 22.8 L698.2 22.8 L696.2 22.7 L694.2 22.7 L692.2 22.7 L690.2 22.6 L688.2 22.6 L686.2 22.6 L684.2 22.6 L682.2 22.5 L680.2 22.5 L678.2 22.5 L676.2 22.4 L674.2 22.4 L672.2 22.4 L670.2 22.4 L668.2 22.3 L666.2 22.3 L664.2 22.3 L662.2 22.3 L660.2 22.2 L658.2 22.2 L656.2 22.2 L654.2 22.1 L652.2 22.1 L650.2 22.1 L648.2 22.1 L646.2 22.0 L644.2 22.0 L642.2 22.0 L640.2 22.0 L638.1 21.9 L636.1 21.9 L634.1 21.9 L632.1 21.8 L630.1 21.8 L628.1 21.8 L626.1 21.8 L624.1 21.7 L622.1 21.7 L620.1 21.7 L618.1 21.7 L616.1 21.6 L614.1 21.6 L612.1 21.6 L610.1 21.5 L608.1 21.5 L606.1 21.5 L604.1 21.5 L602.1 21.4 L600.1 21.4 L598.1 21.4 L596.1 21.3 L594.1 21.3 L592.1 21.3 L590.1 21.3 L588.1 21.2 L586.1 21.2 L584.1 21.2 L582.1 21.2 L580.1 21.1 L578.1 21.1 L576.1 21.1 L574.1 21.0 L572.1 21.0 L570.1 21.0 L568.1 21.0 L566.1 20.9 L564.1 20.9 L562.1 20.9 L560.1 20.9 L558.1 20.8 L556.1 20.8 L554.1 20.8 L552.1 20.7 L550.1 20.7 L548.1 20.7 L546.1 20.7 L544.0 20.6 L542.0 20.6 L540.0 20.6 L538.0 20.6 L536.0 20.5 L534.0 20.5 L532.0 20.5 L530.0 20.4 L528.0 20.4 L526.0 20.4 L524.0 20.4 L522.0 20.3 L520.0 20.3 L518.0 20.3 L516.0 20.2 L514.0 20.2 L512.0 20.2 L510.0 20.2 L508.0 20.1 L506.0 20.1 L504.0 20.1 L502.0 20.1 L500.0 20.0 L497.9 20.1 L497.4 21.8 L498.0 24.7 L498.6 26.2 L497.5 29.0 L498.6 30.5Z"/>
<path class="land" d="M1117.0 28.5 L1116.8 30.5 L1117.5 32.8 L1118.1 34.8 L1118.5 36.6 L1120.5 37.1 L1122.4 37.1 L1124.7 37.9 L1126.6 38.4 L1128.6 39.4 L1129.0 40.9 L1129.0 42.5 L1131.1 44.3 L1131.0 45.5 L1131.6 48.0 L1133.2 48.7 L1133.9 50.2 L1134.1 52.0 L1134.8 53.5 L1136.4 55.3 L1136.8 56.7 L1137.4 58.5 L1138.9 59.7 L1140.3 61.8 L1139.3 63.5 L1138.9 65.4 L1141.7 64.9 L1143.9 63.4 L1145.5 64.6 L1146.7 65.3 L1146.1 67.7 L1144.7 68.8 L1143.8 70.5 L1142.5 72.0 L1143.5 73.2 L1144.2 74.7 L1145.5 75.2 L1147.2 76.5 L1148.5 76.8 L1150.8 77.0 L1153.7 77.3 L1156.0 76.9 L1158.6 76.5 L1159.5 77.5 L1161.6 79.2 L1163.2 77.6 L1165.7 77.7 L1168.1 77.7 L1171.1 78.5 L1172.2 80.8 L1173.5 80.9 L1175.4 81.8 L1177.4 80.8 L1178.4 78.7 L1180.2 77.3 L1182.2 75.8 L1182.8 77.6 L1184.9 78.6 L1186.5 76.9 L1188.1 75.7 L1189.0 73.7 L1189.5 71.4 L1188.7 69.2 L1187.0 67.9 L1186.4 66.6 L1185.5 63.6 L1184.9 61.5 L1184.1 59.7 L1183.1 58.8 L1181.6 57.3 L1180.4 55.8 L1178.4 54.3 L1181.1 54.0 L1183.4 52.3 L1186.0 53.0 L1188.2 52.7 L1190.4 52.7 L1192.0 52.9 L1194.4 53.5 L1195.7 55.8 L1197.6 57.0 L1199.6 58.6 L1198.4 60.4 L1198.4 62.7 L1197.8 64.7 L1199.1 65.4 L1200.7 66.8 L1202.5 66.6 L1204.0 66.1 L1205.2 64.2 L1206.8 64.0 L1208.6 63.2 L1209.9 61.7 L1212.4 60.9 L1210.9 59.1 L1210.2 57.2 L1207.7 56.9 L1205.8 56.3 L1203.5 56.3 L1202.7 53.8 L1201.2 52.1 L1202.4 49.6 L1202.1 47.1 L1204.0 46.1 L1205.7 44.3 L1207.4 43.1 L1208.6 41.8 L1210.2 40.9 L1211.7 39.5 L1213.5 38.6 L1215.9 37.6 L1217.7 36.9 L1220.1 37.0 L1222.5 36.6 L1224.6 35.7 L1224.7 37.6 L1226.4 39.7 L1225.0 41.6 L1224.6 43.5 L1224.2 45.7 L1225.0 47.8 L1225.6 49.9 L1225.6 52.4 L1228.0 52.2 L1230.1 53.8 L1232.8 53.3 L1233.9 55.0 L1235.7 55.2 L1236.9 55.7 L1239.1 57.0 L1240.1 54.8 L1241.6 53.1 L1243.1 53.1 L1244.5 53.5 L1244.7 52.0 L1244.5 50.0 L1245.4 47.8 L1244.4 45.8 L1245.0 44.0 L1245.0 41.9 L1245.3 40.1 L1245.1 38.2 L1245.1 36.3 L1244.8 34.2 L1245.2 32.5 L1245.5 30.4 L1244.9 28.4 L1242.9 28.4 L1240.9 28.4 L1238.9 28.4 L1236.9 28.4 L1234.9 28.4 L1232.9 28.4 L1230.9 28.4 L1228.9 28.4 L1226.9 28.4 L1224.9 28.4 L1222.9 28.4 L1220.9 28.4 L1218.9 28.4 L1216.9 28.4 L1214.9 28.4 L1212.9 28.4 L1210.9 28.4 L1208.9 28.4 L1206.9 28.4 L1204.9 28.4 L1202.9 28.4 L1200.9 28.4 L1198.9 28.4 L1196.9 28.4 L1195.0 28.4 L1193.0 28.4 L1191.0 28.4 L1189.0 28.4 L1187.0 28.4 L1185.0 28.4 L1183.0 28.4 L1181.0 28.4 L1179.0 28.4 L1177.0 28.4 L1175.0 28.4 L1173.0 28.4 L1171.0 28.4 L1169.0 28.4 L1167.0 28.4 L1165.0 28.4 L1163.0 28.4 L1161.0 28.4 L1159.0 28.4 L1157.0 28.4 L1155.0 28.4 L1153.0 28.4 L1151.0 28.4 L1149.0 28.4 L1147.0 28.4 L1145.0 28.4 L1143.0 28.4 L1141.0 28.4 L1139.0 28.4 L1137.0 28.4 L1135.0 28.4 L1133.0 28.4 L1131.0 28.4 L1129.0 28.4 L1127.0 28.4 L1125.0 28.4 L1123.0 28.4 L1121.0 28.4 L1119.0 28.4Z"/>
<path class="bline" d="M1148.7 62.1 L1151.2 62.2 L1153.0 61.3 L1154.9 60.6 L1156.9 60.7 L1158.8 59.8 L1160.8 58.8 L1163.0 58.8 L1164.4 57.4 L1166.9 57.0 L1169.0 57.4 L1171.0 56.9 L1173.0 56.4 L1174.8 55.0 L1176.8 54.7 L1178.6 54.2"/>
<path class="land" d="M1135.6 90.4 L1137.3 88.8 L1137.7 87.2 L1139.4 85.5 L1140.6 83.9 L1142.4 83.0 L1143.6 81.7 L1145.9 82.4 L1148.2 81.3 L1149.9 81.6 L1152.7 80.6 L1155.3 79.8 L1155.7 81.5 L1156.2 84.0 L1154.0 84.2 L1152.7 85.3 L1151.4 86.8 L1149.6 87.3 L1146.8 88.4 L1145.9 89.5 L1143.6 89.6 L1142.4 91.2 L1139.8 92.0 L1137.7 92.6Z"/>
<path class="land" d="M1162.6 85.2 L1164.7 84.3 L1166.8 84.2 L1169.1 83.4 L1171.5 84.0 L1173.3 83.6 L1175.1 84.4 L1176.4 86.6 L1176.5 89.1 L1175.3 90.4 L1174.0 91.9 L1171.4 92.0 L1169.4 91.0 L1166.9 90.0 L1164.3 88.9 L1163.8 86.9Z"/>
<path class="land" d="M1162.7 112.0 L1164.7 111.3 L1166.8 110.4 L1168.7 109.4 L1170.3 108.4 L1172.2 108.2 L1174.3 108.0 L1176.7 107.2 L1178.2 106.0 L1180.2 106.0 L1182.3 104.7 L1182.6 106.4 L1181.1 107.7 L1179.0 108.6 L1177.5 109.1 L1175.3 109.8 L1174.4 110.7 L1171.8 110.9 L1170.1 111.8 L1168.7 113.2 L1166.5 114.0 L1163.8 114.7Z"/>
<path class="land" d="M1113.3 70.2 L1114.7 70.1 L1116.0 69.0 L1116.9 69.9 L1118.8 71.6 L1117.0 72.6 L1116.3 74.6 L1113.9 73.8 L1113.1 71.9Z"/>
<path class="land" d="M625.7 383.6 L626.1 381.8 L626.6 379.5 L626.8 377.4 L627.3 375.9 L628.6 374.5 L629.5 372.6 L630.6 371.3 L631.2 369.9 L633.4 369.2 L634.7 367.5 L637.2 367.5 L638.4 366.1 L640.8 364.8 L642.6 364.4 L644.3 363.6 L646.0 362.3 L647.3 361.4 L648.7 359.6 L650.7 359.5 L652.4 357.8 L653.3 356.3 L655.4 355.5 L656.8 354.0 L658.3 352.4 L660.1 351.8 L661.6 350.2 L663.5 349.2 L664.2 347.2 L665.8 345.7 L668.1 344.3 L669.5 342.2 L671.4 341.1 L673.0 340.6 L674.6 339.4 L675.7 338.2 L677.8 338.2 L678.6 337.0 L679.3 335.4 L680.4 333.9 L679.4 332.3 L679.1 330.5 L680.6 328.3 L681.9 328.2 L683.6 327.1 L684.7 324.9 L686.2 323.9 L687.3 322.1 L688.3 320.8 L689.9 319.0 L690.4 317.4 L691.6 315.9 L694.0 316.3 L695.4 317.3 L698.3 317.1 L700.0 318.8 L701.9 318.6 L704.7 320.1 L706.6 319.8 L708.6 319.8 L710.9 319.5 L711.4 317.1 L713.0 316.3 L713.3 314.9 L714.7 313.8 L715.7 311.7 L717.3 310.7 L718.9 309.4 L721.3 308.6 L722.9 308.6 L725.6 308.2 L727.2 306.8 L729.4 306.8 L731.8 307.4 L734.2 308.9 L736.8 309.1 L738.2 310.6 L740.5 311.5 L741.9 312.1 L744.2 313.5 L745.9 312.6 L747.0 310.8 L748.6 309.7 L750.7 311.1 L753.0 312.0 L754.9 313.1 L756.3 313.6 L758.4 313.7 L759.7 315.6 L761.3 314.4 L762.8 312.1 L764.5 311.3 L765.6 310.1 L767.3 309.0 L768.5 308.3 L770.8 308.1 L771.7 305.9 L774.0 305.2 L775.0 303.8 L776.8 303.2 L778.1 302.3 L779.9 301.4 L777.5 301.6 L780.2 301.8 L782.5 302.2 L784.7 302.2 L787.2 303.6 L788.1 302.2 L790.7 302.0 L791.6 300.5 L794.0 301.5 L796.0 300.7 L797.8 301.2 L799.4 302.6 L801.4 302.8 L803.1 303.2 L805.1 303.4 L807.1 304.4 L809.5 305.3 L811.9 305.7 L813.4 306.5 L815.2 305.2 L817.5 302.8 L816.8 301.1 L816.8 299.1 L819.4 298.7 L821.8 298.2 L824.0 298.0 L826.2 299.1 L827.5 300.4 L829.5 300.4 L831.5 301.3 L832.9 302.1 L834.8 302.9 L835.9 304.7 L837.9 304.9 L838.8 306.6 L841.2 307.3 L844.1 308.0 L845.8 307.8 L848.2 306.5 L850.3 306.1 L851.7 307.8 L853.1 309.2 L854.1 311.7 L854.4 313.9 L855.9 315.6 L856.5 317.6 L856.9 319.9 L856.6 322.4 L856.9 324.1 L858.1 325.9 L857.8 328.2 L858.6 329.9 L857.9 331.7 L859.1 333.4 L859.7 335.6 L860.5 338.2 L860.9 340.6 L861.3 343.2 L858.9 342.4 L856.5 342.3 L855.2 343.7 L853.2 345.5 L851.9 347.1 L850.7 348.8 L848.8 350.2 L847.5 352.0 L845.8 352.5 L844.5 353.4 L842.8 352.7 L841.3 352.1 L840.3 353.4 L840.0 355.4 L838.4 356.5 L837.2 358.1 L836.3 359.4 L834.3 360.8 L832.9 361.8 L831.5 363.6 L830.4 364.6 L829.3 365.2 L827.8 366.3 L826.7 367.6 L825.9 369.0 L825.8 371.4 L824.0 373.4 L823.8 376.4 L822.3 377.0 L821.0 379.1 L819.7 381.4 L818.5 383.6 L817.7 385.3 L817.6 387.8 L816.1 389.4 L817.0 391.4 L816.6 393.8 L816.3 395.4 L815.9 397.0 L815.2 399.3 L814.2 400.4 L812.3 402.2 L811.8 403.9 L810.6 406.5 L810.8 408.6 L810.9 410.1 L810.5 412.7 L810.4 414.4 L809.8 416.3 L810.7 418.0 L811.0 420.3 L810.4 422.7 L811.1 424.6 L809.6 425.3 L807.9 426.5 L805.9 426.6 L805.2 428.3 L803.9 430.1 L803.1 431.9 L802.4 433.8 L801.5 434.6 L800.1 436.3 L798.2 436.5 L795.8 435.8 L793.6 436.1 L791.8 437.4 L789.4 437.0 L787.5 438.1 L785.9 439.6 L784.6 440.6 L782.8 441.6 L781.2 442.5 L779.7 444.0 L777.7 444.8 L776.3 446.7 L774.6 447.8 L773.1 449.9 L771.8 451.6 L770.3 453.3 L769.4 455.2 L767.6 456.7 L767.4 458.6 L766.2 460.4 L764.8 462.2 L764.7 463.4 L763.3 465.3 L762.0 466.0 L759.6 465.0 L757.3 465.1 L755.3 464.5 L753.7 463.4 L752.5 461.7 L750.9 462.7 L748.7 462.7 L746.6 463.1 L744.1 463.9 L742.0 463.5 L739.8 464.2 L738.3 465.2 L737.5 466.6 L735.1 467.3 L734.7 470.1 L733.7 472.2 L731.8 473.3 L730.4 475.8 L732.7 476.4 L734.5 476.9 L733.6 479.0 L733.5 480.8 L732.3 482.3 L730.9 482.8 L729.3 480.2 L726.9 481.6 L723.6 481.6 L723.9 483.0 L722.6 485.1 L720.8 485.2 L719.7 485.8 L716.5 484.9 L717.9 482.8 L718.2 481.1 L718.1 478.6 L716.8 480.0 L714.2 480.4 L713.1 481.4 L711.6 482.4 L710.4 483.3 L709.0 484.1 L709.4 482.6 L710.6 481.5 L709.4 479.6 L707.9 477.9 L707.1 476.5 L705.2 475.5 L704.0 474.5 L702.0 474.8 L699.4 473.9 L697.5 474.4 L696.0 473.4 L694.2 473.8 L691.9 473.3 L690.0 473.3 L687.9 473.8 L685.9 473.5 L684.0 473.9 L682.2 474.7 L680.6 474.4 L678.7 472.9 L676.8 472.0 L675.1 470.6 L673.6 469.1 L672.0 468.5 L670.2 467.8 L668.7 467.2 L667.0 466.1 L665.3 467.1 L663.4 466.5 L661.3 467.0 L659.5 466.3 L658.0 464.0 L656.2 463.6 L654.4 463.0 L652.9 462.1 L651.3 461.1 L650.1 460.9 L648.4 458.9 L646.6 458.8 L644.5 457.5 L642.2 456.5 L640.4 456.1 L638.6 454.6 L636.5 454.0 L634.5 453.6 L632.4 452.9 L630.8 451.6 L628.8 449.8 L628.5 448.0 L625.9 446.5 L627.3 444.6 L627.6 442.8 L627.9 440.4 L627.3 438.6 L627.9 436.2 L628.3 434.7 L628.9 432.6 L628.9 430.6 L629.1 428.3 L628.9 426.1 L630.2 424.5 L629.2 422.2 L629.2 420.7 L628.9 418.6 L629.5 416.0 L628.1 414.5 L628.7 412.4 L627.5 410.7 L627.2 408.2 L627.6 406.1 L627.3 404.9 L626.6 402.6 L625.7 401.3 L625.8 399.1 L626.5 397.0 L626.0 394.9 L625.7 393.2 L626.1 391.5 L626.7 389.3 L627.3 387.6 L626.6 385.3 L627.5 383.5 L627.2 382.3 L627.2 379.6 L626.9 381.7Z"/>
<path class="bline" d="M795.7 97.1 L796.0 98.8 L796.4 101.2 L796.7 102.5 L796.9 104.5 L797.1 106.5 L797.5 108.5 L797.5 110.7 L797.9 112.5 L797.0 114.8 L795.9 116.8 L794.7 118.4 L794.2 121.1 L792.3 120.6 L790.4 121.1 L788.0 121.2 L786.0 121.8 L784.4 122.7 L782.2 122.2 L780.8 122.8 L778.8 122.7 L776.9 122.8 L774.6 123.4 L772.6 124.0 L770.7 123.7 L768.1 123.5 L766.5 123.7 L764.4 125.1 L762.1 125.3 L760.4 125.3 L758.2 125.3 L756.7 127.0 L756.2 129.3 L755.7 131.0 L753.8 132.9 L753.8 134.6 L752.6 136.7 L752.8 138.6 L752.0 140.1 L751.6 142.1 L750.7 143.7 L749.9 146.1 L750.4 148.2"/>
<path class="cline" d="M503.8 194.2 L505.3 192.8 L506.3 191.3 L508.4 190.7 L509.2 189.6 L511.1 187.9 L512.1 186.6 L514.3 187.2 L515.7 185.9 L517.8 186.3 L519.6 185.2 L521.4 184.9"/>
<path class="cline" d="M505.1 202.4 L507.1 201.8 L508.8 200.0 L510.8 199.6 L512.2 198.2 L513.7 196.4 L515.7 195.9 L517.7 195.3 L519.1 193.8 L521.8 193.7 L523.4 192.7 L524.6 191.0 L526.7 190.7"/>
<path class="cline" d="M503.5 216.1 L505.2 213.5 L506.5 212.9 L508.8 212.1 L510.7 211.2 L512.6 210.0 L514.5 208.2 L516.1 207.0 L517.1 206.2 L519.2 204.9 L520.0 203.3 L522.2 202.4 L523.9 201.2 L524.9 199.6"/>
<path class="cline" d="M502.2 223.2 L503.1 222.4 L504.5 220.8 L505.7 219.8 L507.1 218.1 L508.6 216.9 L510.0 215.9 L512.5 215.5 L514.3 214.1 L515.6 213.2 L517.8 212.2"/>
<path class="cline" d="M505.0 180.2 L506.0 182.2 L506.3 184.0 L506.8 186.1 L507.1 188.1 L506.7 190.3 L507.3 192.4 L506.1 193.4 L505.6 196.0 L504.7 197.3 L504.3 199.7 L503.4 201.1"/>
<path class="cline" d="M510.7 194.2 L509.8 195.4 L509.4 197.5 L510.0 199.7 L509.5 201.0 L508.8 203.0 L508.5 205.0 L507.0 206.3 L506.4 208.2 L506.1 210.1"/>
<path class="cline" d="M517.5 191.8 L517.6 194.1 L517.2 196.1 L515.9 197.0 L515.4 199.2 L514.7 201.3 L513.4 202.5 L512.3 204.6 L511.4 205.8 L510.6 208.3"/>
<path class="bline" d="M497.2 142.9 L499.0 143.7 L502.2 143.4 L503.0 144.7 L503.8 146.4 L505.3 148.0 L507.2 148.4 L508.5 148.7 L510.9 148.5 L512.6 147.9 L513.4 147.1 L514.6 149.4 L516.1 150.5 L517.9 151.2 L519.5 152.2 L521.1 152.1 L523.3 151.7 L525.3 152.0 L526.5 151.1 L528.4 150.7 L530.2 150.6 L531.9 150.1 L533.9 149.4 L535.7 148.6 L537.4 147.9 L539.3 148.1 L541.3 147.0 L542.7 146.4 L544.7 146.3 L546.8 146.1 L548.0 146.7 L549.8 146.7 L551.8 146.8 L553.3 148.2 L554.0 149.6 L555.5 150.8 L556.8 152.9 L558.3 154.3 L559.4 156.3 L560.4 156.6 L563.0 156.2 L564.5 156.8 L566.2 156.2 L568.0 156.4 L569.9 156.2"/>
<path class="isl" d="M562.1 186.3 L562.0 187.8 L560.6 187.7 L559.2 187.2 L559.5 185.7 L560.6 185.1 L562.0 185.0Z"/>
<path class="isl" d="M567.5 190.3 L567.0 191.3 L566.1 191.2 L565.3 190.8 L565.5 189.9 L566.0 189.0 L567.1 189.3Z"/>
<path class="isl" d="M552.8 194.8 L551.8 195.8 L550.7 196.2 L549.4 195.6 L549.8 194.2 L550.7 193.7 L552.0 193.5Z"/>
<path class="isl" d="M546.9 198.4 L546.6 199.7 L545.3 199.6 L544.8 198.8 L544.4 197.8 L545.3 196.9 L546.3 197.5Z"/>
<path class="isl" d="M542.1 202.9 L541.7 203.6 L540.8 204.0 L540.3 203.3 L540.4 202.5 L540.9 201.9 L541.9 201.9Z"/>
<path class="isl" d="M550.3 206.9 L548.9 208.8 L545.9 210.9 L543.9 210.8 L543.4 210.2 L545.1 208.7 L547.8 207.3Z"/>
<path class="isl" d="M543.7 211.9 L542.9 213.0 L541.6 213.6 L540.8 212.4 L541.0 211.4 L541.5 209.8 L542.9 210.7Z"/>
<path class="isl" d="M506.0 233.4 L506.0 234.5 L504.9 234.7 L504.4 233.8 L504.2 232.9 L504.9 232.3 L505.7 232.8Z"/>
<path class="isl" d="M515.6 232.5 L514.9 233.4 L513.9 233.8 L512.9 233.1 L513.0 232.0 L513.9 231.3 L515.1 231.4Z"/>
<path class="isl" d="M502.4 228.4 L502.4 229.4 L501.3 229.6 L500.4 229.0 L500.4 227.8 L501.3 227.1 L502.3 227.5Z"/>
<path class="isl" d="M511.4 229.8 L511.1 230.4 L510.4 230.5 L509.8 230.2 L510.0 229.5 L510.4 228.9 L511.2 229.0Z"/>
<path class="isl" d="M675.4 205.0 L675.1 207.2 L672.9 206.9 L671.3 206.0 L671.7 204.2 L672.9 203.1 L674.9 203.1Z"/>
<path class="isl" d="M683.7 218.4 L683.4 219.1 L682.6 219.2 L682.1 218.8 L682.1 218.1 L682.6 217.2 L683.4 217.7Z"/>
<path class="isl" d="M1011.8 148.9 L1010.7 150.6 L1009.0 150.6 L1007.4 149.8 L1007.2 147.8 L1008.9 146.7 L1010.3 147.7Z"/>
<path class="isl" d="M1016.8 145.6 L1015.6 146.6 L1014.3 147.7 L1013.4 146.3 L1013.5 145.0 L1014.5 144.2 L1015.6 144.6Z"/>
<path class="isl" d="M1020.9 149.4 L1020.1 150.7 L1018.7 151.1 L1017.6 150.2 L1018.0 148.9 L1018.6 147.4 L1020.0 148.2Z"/>
<path class="isl" d="M1013.9 142.4 L1013.2 143.1 L1012.4 143.4 L1011.6 142.9 L1011.8 142.0 L1012.3 141.2 L1013.3 141.5Z"/>
<path class="isl" d="M1026.7 143.6 L1025.7 143.9 L1024.8 142.8 L1024.1 141.6 L1024.9 141.3 L1025.9 141.7 L1027.0 142.6Z"/>
<path class="isl" d="M1030.7 147.4 L1029.8 147.5 L1029.1 146.4 L1028.8 145.3 L1029.3 144.3 L1030.7 145.1 L1031.1 146.6Z"/>
<path class="isl" d="M1034.0 142.4 L1033.6 143.0 L1032.8 143.7 L1032.0 142.9 L1032.0 141.9 L1032.9 141.7 L1033.6 141.8Z"/>
<path class="isl" d="M1023.6 145.6 L1022.9 146.4 L1022.1 146.7 L1021.6 146.0 L1021.6 145.3 L1022.1 144.6 L1022.8 145.0Z"/>
<path class="isl" d="M1008.3 151.0 L1007.9 151.8 L1007.0 152.0 L1006.4 151.4 L1006.5 150.7 L1007.0 150.2 L1007.9 150.3Z"/>
<path class="land" d="M1110.5 41.9 L1112.5 41.1 L1114.9 40.0 L1116.8 40.7 L1118.3 42.4 L1119.4 44.8 L1119.0 46.0 L1117.8 48.7 L1116.0 49.9 L1114.2 48.8 L1112.7 47.7 L1111.9 45.8 L1111.5 43.8Z"/>
<path class="isl" d="M1132.5 71.1 L1131.9 71.9 L1130.9 72.5 L1129.6 71.9 L1130.1 70.5 L1130.9 69.7 L1131.8 70.3Z"/>
<path class="isl" d="M1134.4 96.4 L1133.6 97.4 L1132.4 97.8 L1131.8 96.8 L1131.8 95.9 L1132.5 95.0 L1133.9 94.9Z"/>
<path class="isl" d="M1140.5 99.5 L1139.8 100.4 L1138.8 100.7 L1138.2 100.0 L1137.6 98.8 L1138.7 97.9 L1140.1 98.3Z"/>
<path class="isl" d="M1143.6 94.8 L1143.2 96.0 L1142.0 95.7 L1141.3 95.2 L1141.2 94.3 L1142.0 93.6 L1143.2 93.6Z"/>
<path class="isl" d="M1155.1 101.9 L1155.0 103.0 L1153.8 103.2 L1153.2 102.3 L1153.0 101.4 L1153.8 100.4 L1154.8 101.0Z"/>
<path class="isl" d="M1151.6 106.6 L1150.9 107.5 L1149.8 108.0 L1148.7 107.3 L1148.9 106.0 L1149.9 105.4 L1151.3 105.2Z"/>
<path class="isl" d="M1145.0 107.4 L1144.5 108.3 L1143.5 108.7 L1142.6 108.0 L1142.7 106.9 L1143.6 106.2 L1144.6 106.4Z"/>
<path class="isl" d="M1121.7 108.2 L1121.2 109.5 L1119.9 109.4 L1118.4 109.1 L1119.0 107.7 L1119.9 107.0 L1120.9 107.2Z"/>
<path class="isl" d="M1129.4 112.1 L1128.7 113.0 L1127.7 113.7 L1127.1 112.6 L1126.9 111.6 L1127.7 110.8 L1128.9 111.1Z"/>
<path class="isl" d="M1164.0 91.6 L1163.9 93.0 L1162.5 92.9 L1161.5 92.2 L1161.4 90.9 L1162.5 90.5 L1163.5 90.8Z"/>
<path class="isl" d="M1178.7 94.8 L1177.9 95.9 L1176.7 96.1 L1175.4 95.5 L1175.9 94.2 L1176.6 93.0 L1177.8 93.8Z"/>
<path class="isl" d="M1215.0 54.5 L1214.1 55.4 L1213.0 55.9 L1212.4 54.9 L1212.5 54.1 L1213.1 53.2 L1214.0 53.6Z"/>
<path class="isl" d="M1214.7 67.1 L1214.5 68.6 L1213.0 68.8 L1211.7 67.9 L1211.6 66.3 L1213.0 65.6 L1214.3 65.9Z"/>
<path class="isl" d="M1234.1 60.8 L1233.7 61.6 L1232.8 62.0 L1232.5 61.1 L1232.4 60.5 L1232.9 60.1 L1233.7 60.0Z"/>
<path class="isl" d="M1110.8 96.4 L1109.9 97.4 L1108.6 98.2 L1107.9 96.9 L1107.7 95.7 L1108.8 95.0 L1110.0 95.2Z"/>
<path class="isl" d="M1123.7 116.1 L1122.5 117.0 L1121.3 117.8 L1120.5 116.7 L1120.3 115.4 L1121.3 114.4 L1122.8 114.7Z"/>
<path class="isl" d="M1116.2 109.0 L1116.1 109.9 L1115.2 110.0 L1114.3 109.5 L1114.3 108.5 L1115.2 108.1 L1115.9 108.3Z"/>
<path class="isl" d="M1183.0 61.6 L1182.6 62.7 L1181.4 63.0 L1180.4 62.3 L1180.3 60.9 L1181.4 60.1 L1182.9 60.2Z"/>
<path class="isl" d="M1187.2 67.9 L1186.6 69.1 L1185.3 69.7 L1184.0 68.7 L1184.0 67.1 L1185.3 66.2 L1187.0 66.3Z"/>
<path class="isl" d="M1185.1 75.0 L1184.6 76.7 L1182.9 76.8 L1181.9 75.7 L1181.9 74.3 L1182.8 72.9 L1184.7 73.3Z"/>
<path class="isl" d="M1180.2 77.4 L1179.6 78.7 L1178.3 78.7 L1177.6 77.8 L1177.0 76.6 L1178.4 76.4 L1179.7 76.0Z"/>
<path class="isl" d="M1189.1 72.7 L1188.8 73.6 L1187.8 73.9 L1186.6 73.4 L1186.7 72.0 L1187.8 71.4 L1188.9 71.7Z"/>
<path class="isl" d="M1178.6 85.3 L1177.9 86.4 L1176.7 86.8 L1176.1 85.7 L1175.7 84.7 L1176.7 84.1 L1178.0 84.0Z"/>
<path class="isl" d="M1182.4 82.1 L1181.9 83.3 L1180.7 83.1 L1179.5 82.8 L1180.1 81.7 L1180.6 80.6 L1181.5 81.4Z"/>
<path class="isl" d="M1174.2 67.1 L1173.6 67.9 L1172.0 68.8 L1171.0 68.7 L1170.3 68.4 L1171.7 67.6 L1173.6 66.6Z"/>
<path class="isl" d="M1157.4 85.3 L1157.0 86.0 L1156.2 86.4 L1155.3 85.8 L1155.7 84.9 L1156.1 83.7 L1157.5 84.0Z"/>
<path class="isl" d="M1160.6 82.9 L1160.3 83.7 L1159.4 83.8 L1158.8 83.3 L1158.7 82.5 L1159.4 82.1 L1160.3 82.0Z"/>
<path class="isl" d="M1216.6 71.9 L1216.2 72.5 L1215.5 72.6 L1215.0 72.2 L1215.1 71.6 L1215.5 70.9 L1216.1 71.4Z"/>
<path class="isl" d="M1212.3 47.4 L1211.6 48.1 L1210.7 48.7 L1210.0 47.9 L1210.2 47.0 L1210.8 46.5 L1211.7 46.5Z"/>
<path class="isl" d="M1208.2 44.2 L1207.7 45.1 L1206.8 45.0 L1206.1 44.7 L1206.2 43.8 L1206.8 43.2 L1207.5 43.6Z"/>
<path class="isl" d="M1221.9 53.7 L1221.7 54.3 L1221.1 54.3 L1220.6 54.0 L1220.4 53.3 L1221.0 52.7 L1221.7 53.1Z"/>
<path class="isl" d="M1193.2 58.4 L1193.2 58.9 L1192.6 59.1 L1192.4 58.6 L1192.3 58.2 L1192.7 57.8 L1193.3 57.9Z"/>
<path class="isl" d="M1185.9 85.3 L1185.5 86.0 L1184.7 86.1 L1184.1 85.7 L1184.0 84.8 L1184.7 84.4 L1185.5 84.6Z"/>
<path class="isl" d="M1136.9 60.0 L1136.6 60.8 L1135.7 61.0 L1134.9 60.5 L1134.7 59.4 L1135.8 59.2 L1136.5 59.3Z"/>
<path class="isl" d="M1140.6 75.8 L1140.6 76.7 L1139.7 76.8 L1139.1 76.2 L1138.9 75.4 L1139.7 75.0 L1140.3 75.3Z"/>
<path class="isl" d="M1134.4 77.4 L1134.1 78.1 L1133.4 78.1 L1132.7 77.8 L1132.9 77.1 L1133.4 76.6 L1134.1 76.7Z"/>
<path class="isl" d="M1123.0 99.5 L1121.9 100.4 L1120.8 100.8 L1119.7 100.2 L1119.9 98.9 L1120.7 97.7 L1121.8 98.6Z"/>
<path class="isl" d="M1126.9 96.3 L1126.7 97.3 L1125.6 97.4 L1124.9 96.8 L1124.9 95.8 L1125.6 95.2 L1126.5 95.6Z"/>
<path class="isl" d="M1132.2 98.7 L1131.3 99.6 L1130.4 99.8 L1129.4 99.3 L1129.7 98.2 L1130.4 97.7 L1131.6 97.5Z"/>
<path class="isl" d="M1123.7 107.4 L1123.4 108.2 L1122.4 108.7 L1121.8 107.8 L1121.3 106.7 L1122.4 106.0 L1123.7 106.1Z"/>
<path class="isl" d="M1128.9 112.1 L1128.5 113.5 L1127.2 113.3 L1126.3 112.7 L1126.5 111.7 L1127.2 111.1 L1128.5 110.8Z"/>
<path class="isl" d="M1120.6 113.7 L1120.1 114.4 L1119.3 114.7 L1118.1 114.4 L1118.4 113.2 L1119.3 112.5 L1120.2 112.9Z"/>
<path class="isl" d="M1125.5 117.6 L1125.2 118.8 L1124.0 118.9 L1122.8 118.4 L1123.0 117.0 L1123.9 115.9 L1125.3 116.4Z"/>
<path class="isl" d="M1133.1 107.4 L1133.1 108.5 L1132.0 108.2 L1131.0 107.9 L1131.4 107.0 L1132.0 106.5 L1133.0 106.3Z"/>
<path class="isl" d="M1139.5 99.5 L1139.4 100.5 L1138.3 100.4 L1137.7 99.9 L1137.6 99.0 L1138.3 98.6 L1139.2 98.7Z"/>
<path class="isl" d="M1144.6 105.8 L1143.8 106.5 L1143.0 106.9 L1142.1 106.3 L1142.3 105.3 L1143.0 104.8 L1144.0 104.9Z"/>
<path class="isl" d="M1150.9 104.2 L1150.4 105.3 L1149.3 105.5 L1148.4 104.8 L1148.2 103.6 L1149.3 102.9 L1150.2 103.4Z"/>
<path class="isl" d="M1155.6 101.1 L1155.1 102.0 L1154.1 102.2 L1153.3 101.6 L1153.2 100.5 L1154.0 99.7 L1155.2 100.0Z"/>
<path class="isl" d="M1154.4 122.3 L1153.6 123.6 L1151.9 125.5 L1148.9 126.7 L1149.7 125.1 L1151.0 123.7 L1153.6 121.6Z"/>
<path class="isl" d="M1134.9 94.7 L1134.5 95.6 L1133.6 95.7 L1132.9 95.1 L1132.9 94.3 L1133.5 93.7 L1134.4 94.0Z"/>
<path class="isl" d="M1118.8 109.0 L1118.4 109.5 L1117.8 109.8 L1116.9 109.5 L1117.1 108.6 L1117.7 107.9 L1118.4 108.4Z"/>
<path class="sea" d="M794.4 202.1 L795.4 199.9 L796.7 198.3 L798.0 197.0 L798.7 195.3 L800.4 194.6 L802.7 193.8 L804.5 192.3 L804.0 194.6 L802.8 196.0 L802.0 197.4 L801.2 198.9 L800.2 200.4 L798.4 201.9 L797.4 204.3Z"/>
<path class="cline" d="M801.4 191.9 L803.0 190.7 L803.8 189.6 L805.6 189.2 L807.7 188.0 L809.2 188.5 L811.1 187.3 L813.0 188.0 L815.1 186.9 L817.9 187.7 L820.5 189.0 L818.9 191.4 L818.3 193.9 L816.1 194.5 L814.5 195.5 L811.8 196.0 L810.2 196.1 L808.4 196.8 L805.9 197.1 L804.2 196.3 L802.2 196.0 L800.1 195.2 L800.2 193.3Z"/>
<path class="isl" d="M819.2 219.3 L819.0 220.9 L817.2 221.4 L815.6 220.3 L815.8 218.4 L817.3 217.6 L818.8 218.0Z"/>
<path class="isl" d="M802.6 239.5 L801.8 240.4 L800.8 240.8 L800.1 240.0 L799.7 238.8 L800.8 238.3 L802.0 238.3Z"/>
<path class="isl" d="M796.0 241.9 L795.5 242.8 L794.5 242.9 L793.9 242.3 L793.8 241.4 L794.5 240.7 L795.6 240.8Z"/>
<path class="isl" d="M804.4 248.3 L803.1 247.3 L801.8 245.8 L802.2 244.2 L803.2 243.2 L804.2 245.2 L804.6 246.6Z"/>
<path class="isl" d="M799.8 249.0 L799.3 249.7 L798.4 250.3 L797.8 249.5 L797.5 248.4 L798.4 247.4 L799.5 248.1Z"/>
<path class="isl" d="M812.4 201.6 L811.5 202.7 L810.3 202.8 L809.6 202.1 L809.6 201.1 L810.3 200.4 L811.4 200.6Z"/>
<path class="isl" d="M815.8 190.5 L815.3 191.5 L814.3 191.7 L813.6 191.0 L813.4 190.0 L814.2 189.2 L815.3 189.6Z"/>
<path class="isl" d="M809.9 192.1 L809.9 193.2 L808.7 193.5 L807.8 192.7 L808.1 191.7 L808.7 190.6 L809.7 191.2Z"/>
<path class="isl" d="M884.5 308.7 L884.5 309.3 L884.0 310.1 L883.3 310.3 L883.0 310.0 L883.2 309.3 L883.9 308.8Z"/>
<path class="isl" d="M878.1 315.8 L877.9 316.4 L877.3 316.6 L876.5 316.2 L876.9 315.5 L877.2 314.9 L878.0 315.1Z"/>
<path class="isl" d="M858.6 332.4 L858.3 333.2 L857.5 333.2 L856.9 332.8 L857.2 332.1 L857.5 331.6 L858.1 331.9Z"/>
<path class="isl" d="M538.4 294.9 L538.0 296.0 L537.0 295.7 L536.0 295.5 L536.1 294.4 L536.9 294.0 L537.8 294.1Z"/>
</g>
<rect class="frame" x="498.4" y="32.6" width="744.0" height="489.7"/>
<path class="tick" d="M564.6 32.6 v9.5 M564.6 522.3 v-9.5 M662.4 32.6 v6.5 M662.4 522.3 v-6.5 M760.1 32.6 v9.5 M760.1 522.3 v-9.5 M857.9 32.6 v6.5 M857.9 522.3 v-6.5 M955.7 32.6 v9.5 M955.7 522.3 v-9.5 M1053.5 32.6 v6.5 M1053.5 522.3 v-6.5 M1151.2 32.6 v9.5 M1151.2 522.3 v-9.5 M498.4 111.2 h9.5 M1242.4 111.2 h-9.5 M498.4 209.0 h6.5 M1242.4 209.0 h-6.5 M498.4 306.9 h9.5 M1242.4 306.9 h-9.5 M498.4 404.7 h6.5 M1242.4 404.7 h-6.5 M498.4 502.5 h9.5 M1242.4 502.5 h-9.5"/>
<text class="t" x="564.9" y="541.8" font-size="17.6" text-anchor="middle">108° E</text>
<text class="t" x="760.4" y="541.8" font-size="17.6" text-anchor="middle">110° E</text>
<text class="t" x="956.0" y="541.8" font-size="17.6" text-anchor="middle">112° E</text>
<text class="t" x="1151.5" y="541.8" font-size="17.6" text-anchor="middle">114° E</text>
<text class="t" transform="translate(491.3 111.8) rotate(-90)" font-size="18.1" text-anchor="middle">22° N</text>
<text class="t" transform="translate(491.3 307.5) rotate(-90)" font-size="18.1" text-anchor="middle">20° N</text>
<text class="t" transform="translate(491.3 503.1) rotate(-90)" font-size="18.1" text-anchor="middle">18° N</text>
<text class="b" x="518.0" y="68.6" font-size="26.5" text-anchor="start">(b)</text>
<text class="r" x="662.0" y="92.4" font-size="14.9" text-anchor="middle">Match: 0</text>
<text class="b" x="627.3" y="112.2" font-size="14.9" text-anchor="middle">SNB (151)</text>
<text class="b" x="698.0" y="112.2" font-size="14.9" text-anchor="middle">SC (55)</text>
<line x1="647.0" y1="125.2" x2="685.2" y2="125.2" stroke="#000" stroke-width="1.3"/><polygon points="638.0,125.2 648.0,119.2 648.0,131.2" fill="#000"/><polygon points="694.2,125.2 684.2,119.2 684.2,131.2" fill="#000"/>
<path d="M642.2 132.6 Q642.2 140.0 649.6 140.0 L658.0 140.0 Q665.4 140.0 665.4 148.5 Q665.4 140.0 672.8 140.0 L681.2 140.0 Q688.6 140.0 688.6 132.6" fill="none" stroke="#0F78F5" stroke-width="4.4" stroke-linecap="butt" stroke-linejoin="round"/>
<circle class="pc" cx="628" cy="124.6" r="8.8"/>
<circle class="pc" cx="699.9" cy="125.2" r="4.7"/>
<line x1="689.8" y1="152.9" x2="1022.3" y2="118.8" stroke="#000" stroke-width="3.5"/>
<polygon fill="#000" points="1038.6,117.1 1021.5,128.9 1019.5,109.0"/>
<polygon fill="#000" points="673.5,154.6 692.6,162.7 690.6,142.8"/>
<line x1="687.5" y1="167.4" x2="781.5" y2="200.1" stroke="#000" stroke-width="3.5"/>
<polygon fill="#000" points="797.0,205.5 776.5,209.0 783.1,190.1"/>
<polygon fill="#000" points="672.0,162.0 685.9,177.4 692.5,158.5"/>
<line x1="838.0" y1="199.6" x2="1026.8" y2="133.0" stroke="#000" stroke-width="3.5"/>
<polygon fill="#000" points="1042.3,127.6 1028.5,143.1 1021.8,124.2"/>
<polygon fill="#000" points="822.5,205.0 843.0,208.4 836.3,189.5"/>
<line x1="660.5" y1="184.2" x2="624.4" y2="419.8" stroke="#000" stroke-width="3.5"/>
<polygon fill="#000" points="621.9,436.0 614.8,416.5 634.5,419.5"/>
<polygon fill="#000" points="663.0,168.0 650.4,184.5 670.1,187.5"/>
<line x1="788.3" y1="230.1" x2="641.3" y2="423.9" stroke="#000" stroke-width="3.5"/>
<polygon fill="#000" points="631.4,437.0 634.4,416.5 650.4,428.5"/>
<polygon fill="#000" points="798.2,217.0 779.2,225.5 795.2,237.5"/>
<line x1="1038.3" y1="147.5" x2="650.7" y2="432.7" stroke="#000" stroke-width="3.5"/>
<polygon fill="#000" points="637.5,442.4 646.2,423.6 658.1,439.7"/>
<polygon fill="#000" points="1051.5,137.8 1030.9,140.5 1042.8,156.6"/>
<circle class="gc" cx="664" cy="157.4" r="9.5"/>
<circle class="gc" cx="809" cy="208.4" r="13.2"/>
<circle class="gc" cx="625.8" cy="444.5" r="8.7"/>
<circle cx="1073" cy="110.4" r="33.5" fill="#55FF00" stroke="#0a0a0a" stroke-width="2"/>
<path d="M1045.8 163.7 Q1045.8 154.4 1055.1 154.4 L1065.9 154.4 Q1075.2 154.4 1075.2 145.2 Q1075.2 154.4 1084.5 154.4 L1095.3 154.4 Q1104.6 154.4 1104.6 163.7" fill="none" stroke="#0F78F5" stroke-width="4.4" stroke-linecap="butt" stroke-linejoin="round"/>
<line x1="1059.3" y1="177.5" x2="1098.6" y2="177.5" stroke="#000" stroke-width="1.3"/><polygon points="1050.3,177.5 1060.3,171.5 1060.3,183.5" fill="#000"/><polygon points="1107.6,177.5 1097.6,171.5 1097.6,183.5" fill="#000"/>
<circle class="pc" cx="1039.9" cy="176.9" r="9.1"/>
<circle class="pc" cx="1119.8" cy="176.9" r="10"/>
<text class="b" x="1012.2" y="73.3" font-size="17.7" text-anchor="middle">PRE</text>
<text class="b" x="1012.0" y="94.4" font-size="17.7" text-anchor="middle">(2458)</text>
<text class="b" x="1041.0" y="202.2" font-size="14.9" text-anchor="middle">MRE</text>
<text class="b" x="1041.0" y="220.0" font-size="14.9" text-anchor="middle">(211)</text>
<text class="b" x="1126.8" y="202.2" font-size="14.9" text-anchor="middle">PRE</text>
<text class="b" x="1126.8" y="220.0" font-size="14.9" text-anchor="middle">(270)</text>
<text class="r" x="1083.9" y="242.3" font-size="14.9" text-anchor="middle">Match: 7</text>
<text class="b" x="624.0" y="175.3" font-size="17.5" text-anchor="middle">NBG</text>
<text class="b" x="624.0" y="195.8" font-size="17.5" text-anchor="middle">(158)</text>
<text class="b" x="844.2" y="228.1" font-size="17.5" text-anchor="middle">EZJ</text>
<text class="b" x="845.0" y="250.3" font-size="17.5" text-anchor="middle">(373)</text>
<text class="b" x="596.5" y="444.2" font-size="17.5" text-anchor="middle">SWH</text>
<text class="b" x="596.5" y="466.6" font-size="17.5" text-anchor="middle">(169)</text>
<text class="r" x="822.7" y="112.3" font-size="14.9" text-anchor="middle">420 km</text>
<text class="r" x="822.7" y="129.9" font-size="14.9" text-anchor="middle">Match: 0</text>
<text class="r" x="738.0" y="174.9" font-size="14.9" text-anchor="middle">250 km</text>
<text class="r" x="738.0" y="192.5" font-size="14.9" text-anchor="middle">Match: 0</text>
<text class="r" x="897.3" y="174.9" font-size="14.9" text-anchor="middle">100 km</text>
<text class="r" x="897.3" y="192.5" font-size="14.9" text-anchor="middle">Match: 0</text>
<text class="r" x="613.4" y="259.9" font-size="14.9" text-anchor="middle">240 km</text>
<text class="r" x="613.4" y="277.5" font-size="14.9" text-anchor="middle">Match: 0</text>
<text class="r" x="926.5" y="260.3" font-size="14.9" text-anchor="middle">550 km</text>
<text class="r" x="926.5" y="277.9" font-size="14.9" text-anchor="middle">Match: 0</text>
<text class="r" x="695.5" y="330.4" font-size="14.9" text-anchor="middle">280 km</text>
<text class="r" x="695.5" y="348.0" font-size="14.9" text-anchor="middle">Match: 0</text>
<text class="t i" x="776.9" y="296.7" font-size="18.1" text-anchor="middle">Qiongzhou Strait</text>
<text class="t i" x="1042.9" y="386.4" font-size="24.3" text-anchor="middle">South China Sea</text>
<rect x="1060.5" y="482.6" width="87" height="8.2" fill="#fff" stroke="#222" stroke-width="1.3"/>
<text class="t" x="1105.0" y="474.4" font-size="12.3" text-anchor="middle">100</text>
<text class="t" x="1153.6" y="491.4" font-size="13.0" text-anchor="start">km</text>
<polygon points="1202.2,450.8 1188.9,495.4 1202.2,479.1" fill="#000" stroke="#000" stroke-width="0.8" stroke-linejoin="miter"/><polygon points="1202.2,450.8 1215.5,495.4 1202.2,479.1" fill="#fff" stroke="#000" stroke-width="1.2" stroke-linejoin="miter"/><text x="1202.2" y="445.1" class="t" font-size="18.0" text-anchor="middle">N</text>
</g>
</svg></body></html>
